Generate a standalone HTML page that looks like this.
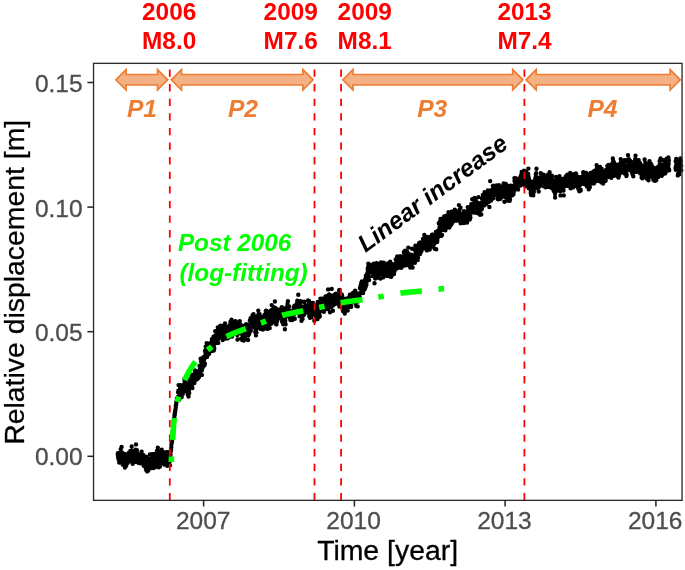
<!DOCTYPE html>
<html><head><meta charset="utf-8"><title>Relative displacement</title>
<style>
html,body{margin:0;padding:0;background:#fff;}
svg{display:block;}
text{font-family:"Liberation Sans",Arial,sans-serif;}
.ax{font-size:24.5px;fill:#4d4d4d;stroke:#4d4d4d;stroke-width:0.3px;}
.ttl{font-size:28.4px;fill:#000;stroke:#000;stroke-width:0.3px;}
.red{font-size:24.4px;font-weight:bold;fill:#ff0000;}
.per{font-size:24.6px;font-weight:bold;font-style:italic;fill:#ed7d31;text-anchor:middle;}
.grn{font-size:24.3px;font-weight:bold;font-style:italic;fill:#00ff00;}
.lin{font-size:24.4px;font-weight:bold;font-style:italic;fill:#000;}
</style></head>
<body>
<svg width="685" height="570" viewBox="0 0 685 570">
<rect width="685" height="570" fill="#fff"/>
<!-- data points -->
<path d="M117.8 454.4h0M117.9 453.1h0M118.1 457.4h0M118.2 456.1h0M118.4 458.6h0M118.5 453.9h0M118.7 455.1h0M118.8 459.9h0M119.0 454.0h0M119.1 455.3h0M119.2 462.6h0M119.4 456.2h0M119.5 456.8h0M119.7 453.2h0M119.8 452.8h0M120.0 458.9h0M120.1 456.6h0M120.3 453.7h0M120.4 452.7h0M120.5 455.0h0M120.7 449.3h0M120.8 458.8h0M121.0 456.5h0M121.1 459.2h0M121.3 455.9h0M121.4 455.5h0M121.6 446.9h0M121.7 459.7h0M121.8 460.4h0M122.0 454.2h0M122.1 452.8h0M122.3 454.1h0M122.4 455.8h0M122.6 456.0h0M122.7 464.6h0M122.9 457.3h0M123.0 455.5h0M123.1 461.5h0M123.3 459.3h0M123.4 463.1h0M123.6 460.7h0M123.7 460.1h0M123.9 456.0h0M124.0 458.8h0M124.2 461.1h0M124.3 453.9h0M124.4 458.3h0M124.6 458.9h0M124.7 459.7h0M124.9 467.5h0M125.0 458.8h0M125.2 455.9h0M125.3 460.0h0M125.5 457.4h0M125.6 457.7h0M125.7 457.3h0M125.9 457.1h0M126.0 458.7h0M126.2 465.7h0M126.3 454.4h0M126.5 459.3h0M126.6 456.5h0M126.8 456.0h0M126.9 456.4h0M127.0 454.6h0M127.2 456.2h0M127.3 462.4h0M127.5 463.0h0M127.6 459.0h0M127.8 456.3h0M127.9 459.4h0M128.1 455.2h0M128.2 456.5h0M128.4 460.8h0M128.5 459.0h0M128.6 457.1h0M128.8 457.8h0M128.9 455.1h0M129.1 452.4h0M129.2 457.7h0M129.4 457.2h0M129.5 452.2h0M129.7 457.2h0M129.8 459.0h0M129.9 456.8h0M130.1 454.5h0M130.2 459.0h0M130.4 451.0h0M130.5 461.4h0M130.7 457.6h0M130.8 452.5h0M131.0 453.2h0M131.1 452.7h0M131.2 456.5h0M131.4 457.5h0M131.5 457.1h0M131.7 446.5h0M131.8 458.4h0M132.0 450.9h0M132.1 450.9h0M132.3 453.2h0M132.4 453.8h0M132.5 459.7h0M132.7 463.7h0M132.8 452.8h0M133.0 455.4h0M133.1 457.5h0M133.3 458.5h0M133.4 452.6h0M133.6 453.2h0M133.7 456.4h0M133.8 461.9h0M134.0 451.5h0M134.1 457.6h0M134.3 459.8h0M134.4 455.8h0M134.6 461.5h0M134.7 452.8h0M134.9 457.1h0M135.0 455.0h0M135.1 456.8h0M135.3 452.0h0M135.4 453.7h0M135.6 449.7h0M135.7 450.2h0M135.9 456.9h0M136.0 444.4h0M136.2 457.8h0M136.3 454.2h0M136.4 460.9h0M136.6 453.3h0M136.7 462.0h0M136.9 454.8h0M137.0 450.2h0M137.2 459.6h0M137.3 460.8h0M137.5 460.2h0M137.6 456.1h0M137.7 454.2h0M137.9 457.6h0M138.0 458.8h0M138.2 460.5h0M138.3 457.4h0M138.5 454.9h0M138.6 456.0h0M138.8 454.4h0M138.9 463.1h0M139.0 456.4h0M139.2 458.6h0M139.3 460.8h0M139.5 459.9h0M139.6 457.3h0M139.8 459.4h0M139.9 459.4h0M140.1 460.3h0M140.2 463.2h0M140.3 457.0h0M140.5 462.7h0M140.6 461.7h0M140.8 460.4h0M140.9 460.1h0M141.1 460.4h0M141.2 463.1h0M141.4 453.1h0M141.5 456.6h0M141.6 451.8h0M141.8 456.5h0M141.9 456.8h0M142.1 455.8h0M142.2 461.2h0M142.4 456.1h0M142.5 460.1h0M142.7 456.8h0M142.8 458.0h0M142.9 460.8h0M143.1 455.0h0M143.2 462.8h0M143.4 462.6h0M143.5 461.8h0M143.7 465.7h0M143.8 456.5h0M144.0 458.5h0M144.1 460.3h0M144.2 458.8h0M144.4 461.8h0M144.5 456.1h0M144.7 463.3h0M144.8 466.4h0M145.0 460.9h0M145.1 461.0h0M145.3 457.9h0M145.4 463.1h0M145.5 462.8h0M145.7 460.8h0M145.8 465.8h0M146.0 469.5h0M146.1 467.7h0M146.3 470.2h0M146.4 463.8h0M146.6 467.0h0M146.7 456.9h0M146.8 460.4h0M147.0 462.7h0M147.1 462.8h0M147.3 471.4h0M147.4 470.4h0M147.6 463.6h0M147.7 459.5h0M147.9 467.3h0M148.0 461.8h0M148.2 470.4h0M148.3 464.9h0M148.4 460.9h0M148.6 460.6h0M148.7 462.6h0M148.9 467.6h0M149.0 464.9h0M149.2 465.3h0M149.3 459.0h0M149.5 459.4h0M149.6 466.0h0M149.7 460.6h0M149.9 454.4h0M150.0 465.4h0M150.2 462.4h0M150.3 468.2h0M150.5 461.4h0M150.6 461.1h0M150.8 462.4h0M150.9 462.8h0M151.0 462.4h0M151.2 461.2h0M151.3 462.2h0M151.5 461.1h0M151.6 465.4h0M151.8 454.3h0M151.9 461.9h0M152.1 458.7h0M152.2 463.3h0M152.3 456.6h0M152.5 456.9h0M152.6 464.8h0M152.8 459.6h0M152.9 464.2h0M153.1 460.4h0M153.2 468.1h0M153.4 459.5h0M153.5 456.7h0M153.6 464.9h0M153.8 458.0h0M153.9 453.9h0M154.1 460.0h0M154.2 462.1h0M154.4 457.6h0M154.5 461.9h0M154.7 457.9h0M154.8 467.4h0M154.9 462.9h0M155.1 464.4h0M155.2 458.0h0M155.4 460.0h0M155.5 462.7h0M155.7 464.8h0M155.8 457.5h0M156.0 457.4h0M156.1 461.0h0M156.2 455.6h0M156.4 456.9h0M156.5 454.0h0M156.7 458.1h0M156.8 458.0h0M157.0 450.8h0M157.1 462.9h0M157.3 460.9h0M157.4 455.6h0M157.5 458.1h0M157.7 463.4h0M157.8 447.6h0M158.0 463.5h0M158.1 456.4h0M158.3 457.9h0M158.4 454.6h0M158.6 458.2h0M158.7 463.5h0M158.8 467.3h0M159.0 466.3h0M159.1 460.2h0M159.3 461.1h0M159.4 459.4h0M159.6 462.5h0M159.7 451.4h0M159.9 466.6h0M160.0 457.2h0M160.1 462.5h0M160.3 459.5h0M160.4 461.0h0M160.6 461.0h0M160.7 452.9h0M160.9 456.3h0M161.0 453.0h0M161.2 459.6h0M161.3 453.4h0M161.4 453.8h0M161.6 452.0h0M161.7 449.6h0M161.9 458.7h0M162.0 459.4h0M162.2 452.7h0M162.3 460.0h0M162.5 455.1h0M162.6 456.1h0M162.7 463.3h0M162.9 456.9h0M163.0 457.9h0M163.2 457.9h0M163.3 463.2h0M163.5 452.3h0M163.6 455.9h0M163.8 455.5h0M163.9 459.4h0M164.0 459.6h0M164.2 461.1h0M164.3 464.5h0M164.5 462.2h0M164.6 458.2h0M164.8 459.3h0M164.9 461.3h0M165.1 458.7h0M165.2 459.4h0M165.3 463.6h0M165.5 457.9h0M165.6 459.7h0M165.8 453.2h0M165.9 462.0h0M166.1 452.3h0M166.2 454.3h0M166.4 458.9h0M166.5 455.6h0M166.6 461.0h0M166.8 465.0h0M166.9 461.6h0M167.1 457.6h0M167.2 465.8h0M167.4 456.3h0M167.5 455.7h0M167.7 452.1h0M167.8 461.9h0M167.9 462.1h0M168.1 464.2h0M168.2 453.3h0M168.4 459.4h0M168.5 456.4h0M168.7 460.5h0M168.8 459.9h0M169.0 457.5h0M169.1 461.2h0M169.3 461.5h0M169.4 457.4h0M169.5 460.6h0M169.7 456.3h0M169.8 457.7h0M170.0 465.3h0M170.1 460.8h0M170.3 459.0h0M170.4 455.2h0M170.6 454.6h0M170.7 451.4h0M170.8 450.5h0M171.0 450.7h0M171.1 449.3h0M171.3 447.2h0M171.4 444.4h0M171.6 443.2h0M171.7 443.0h0M171.9 441.3h0M172.0 441.6h0M172.1 439.5h0M172.3 436.2h0M172.4 435.6h0M172.6 433.4h0M172.7 432.0h0M172.9 430.2h0M173.0 430.4h0M173.2 427.2h0M173.3 428.1h0M173.4 426.4h0M173.6 425.4h0M173.7 421.6h0M173.9 421.5h0M174.0 419.5h0M174.2 419.0h0M174.3 417.3h0M174.5 415.5h0M174.6 413.6h0M174.7 415.1h0M174.9 413.9h0M175.0 411.5h0M175.2 411.6h0M175.3 410.2h0M175.5 409.5h0M175.6 409.1h0M175.8 406.9h0M175.9 405.8h0M176.0 404.8h0M176.2 404.2h0M176.3 402.5h0M176.5 401.1h0M176.6 401.7h0M176.8 400.9h0M176.9 398.5h0M177.1 399.8h0M177.2 400.0h0M177.3 398.6h0M177.5 398.8h0M177.6 398.0h0M177.8 397.0h0M177.9 398.7h0M178.1 392.2h0M178.2 397.1h0M178.4 390.6h0M178.5 391.8h0M178.6 385.1h0M178.8 396.8h0M178.9 399.8h0M179.1 392.7h0M179.2 395.4h0M179.4 399.0h0M179.5 393.1h0M179.7 391.5h0M179.8 389.5h0M179.9 390.3h0M180.1 390.6h0M180.2 392.5h0M180.4 387.5h0M180.5 386.0h0M180.7 385.2h0M180.8 392.9h0M181.0 388.8h0M181.1 386.0h0M181.2 389.7h0M181.4 390.6h0M181.5 390.6h0M181.7 397.1h0M181.8 392.5h0M182.0 393.5h0M182.1 386.3h0M182.3 388.1h0M182.4 388.0h0M182.5 385.8h0M182.7 393.9h0M182.8 385.8h0M183.0 389.1h0M183.1 391.5h0M183.3 388.3h0M183.4 391.9h0M183.6 387.0h0M183.7 386.9h0M183.8 386.8h0M184.0 385.6h0M184.1 384.5h0M184.3 384.3h0M184.4 379.0h0M184.6 381.1h0M184.7 386.5h0M184.9 388.9h0M185.0 381.2h0M185.1 382.2h0M185.3 380.8h0M185.4 380.0h0M185.6 386.4h0M185.7 385.4h0M185.9 383.4h0M186.0 386.1h0M186.2 384.4h0M186.3 389.6h0M186.4 385.1h0M186.6 390.2h0M186.7 387.8h0M186.9 391.2h0M187.0 390.1h0M187.2 389.6h0M187.3 390.1h0M187.5 388.7h0M187.6 388.8h0M187.7 394.3h0M187.9 386.4h0M188.0 388.8h0M188.2 384.6h0M188.3 391.8h0M188.5 396.5h0M188.6 391.8h0M188.8 390.7h0M188.9 390.4h0M189.1 386.0h0M189.2 393.0h0M189.3 380.0h0M189.5 387.1h0M189.6 382.5h0M189.8 386.2h0M189.9 383.7h0M190.1 381.6h0M190.2 379.5h0M190.4 384.2h0M190.5 386.7h0M190.6 385.1h0M190.8 386.3h0M190.9 380.8h0M191.1 378.0h0M191.2 377.9h0M191.4 382.1h0M191.5 379.7h0M191.7 380.2h0M191.8 375.3h0M191.9 374.9h0M192.1 383.0h0M192.2 384.8h0M192.4 388.0h0M192.5 378.0h0M192.7 376.3h0M192.8 377.8h0M193.0 376.3h0M193.1 375.0h0M193.2 378.7h0M193.4 376.3h0M193.5 380.6h0M193.7 382.9h0M193.8 381.3h0M194.0 381.7h0M194.1 374.2h0M194.3 374.5h0M194.4 382.9h0M194.5 374.8h0M194.7 376.5h0M194.8 378.4h0M195.0 370.5h0M195.1 374.7h0M195.3 372.7h0M195.4 374.4h0M195.6 373.5h0M195.7 370.9h0M195.8 376.8h0M196.0 379.8h0M196.1 373.4h0M196.3 373.9h0M196.4 376.1h0M196.6 371.4h0M196.7 379.3h0M196.9 378.0h0M197.0 374.2h0M197.1 374.4h0M197.3 373.1h0M197.4 378.8h0M197.6 372.7h0M197.7 371.8h0M197.9 374.1h0M198.0 371.2h0M198.2 372.0h0M198.3 378.1h0M198.4 375.3h0M198.6 375.2h0M198.7 372.5h0M198.9 371.5h0M199.0 376.9h0M199.2 374.3h0M199.3 371.6h0M199.5 365.9h0M199.6 370.8h0M199.7 374.5h0M199.9 375.0h0M200.0 368.7h0M200.2 369.6h0M200.3 367.6h0M200.5 368.7h0M200.6 358.8h0M200.8 370.9h0M200.9 365.7h0M201.0 361.3h0M201.2 370.8h0M201.3 368.7h0M201.5 364.0h0M201.6 369.7h0M201.8 370.5h0M201.9 374.9h0M202.1 364.7h0M202.2 364.8h0M202.3 363.7h0M202.5 365.1h0M202.6 367.7h0M202.8 359.9h0M202.9 360.9h0M203.1 362.8h0M203.2 359.6h0M203.4 357.3h0M203.5 364.8h0M203.6 362.8h0M203.8 360.3h0M203.9 360.8h0M204.1 359.0h0M204.2 365.6h0M204.4 357.7h0M204.5 356.6h0M204.7 364.8h0M204.8 358.1h0M204.9 363.6h0M205.1 350.6h0M205.2 351.2h0M205.4 351.2h0M205.5 353.7h0M205.7 346.7h0M205.8 354.4h0M206.0 355.3h0M206.1 355.3h0M206.2 350.6h0M206.4 353.8h0M206.5 355.6h0M206.7 343.1h0M206.8 351.4h0M207.0 356.9h0M207.1 355.5h0M207.3 353.8h0M207.4 348.0h0M207.5 352.2h0M207.7 349.2h0M207.8 354.8h0M208.0 349.9h0M208.1 348.1h0M208.3 353.6h0M208.4 354.1h0M208.6 350.3h0M208.7 351.4h0M208.9 349.3h0M209.0 353.9h0M209.1 346.5h0M209.3 349.7h0M209.4 344.0h0M209.6 343.7h0M209.7 345.0h0M209.9 346.0h0M210.0 349.3h0M210.2 343.3h0M210.3 343.9h0M210.4 351.0h0M210.6 345.9h0M210.7 344.2h0M210.9 345.8h0M211.0 345.9h0M211.2 349.1h0M211.3 342.4h0M211.5 351.0h0M211.6 343.1h0M211.7 348.5h0M211.9 339.2h0M212.0 341.5h0M212.2 344.4h0M212.3 341.6h0M212.5 341.6h0M212.6 342.0h0M212.8 339.9h0M212.9 341.2h0M213.0 340.8h0M213.2 347.4h0M213.3 340.9h0M213.5 336.7h0M213.6 345.1h0M213.8 350.6h0M213.9 347.1h0M214.1 345.2h0M214.2 343.5h0M214.3 348.5h0M214.5 338.4h0M214.6 341.5h0M214.8 343.4h0M214.9 338.7h0M215.1 338.8h0M215.2 331.2h0M215.4 335.6h0M215.5 341.6h0M215.6 337.0h0M215.8 338.5h0M215.9 335.4h0M216.1 335.0h0M216.2 337.4h0M216.4 331.4h0M216.5 330.9h0M216.7 331.7h0M216.8 334.1h0M216.9 336.7h0M217.1 337.1h0M217.2 332.6h0M217.4 335.3h0M217.5 335.2h0M217.7 339.5h0M217.8 327.5h0M218.0 329.2h0M218.1 333.2h0M218.2 342.9h0M218.4 338.7h0M218.5 336.3h0M218.7 334.1h0M218.8 336.8h0M219.0 335.9h0M219.1 335.2h0M219.3 336.5h0M219.4 333.0h0M219.5 332.6h0M219.7 330.8h0M219.8 336.3h0M220.0 334.9h0M220.1 329.8h0M220.3 331.0h0M220.4 325.6h0M220.6 331.3h0M220.7 330.3h0M220.8 334.8h0M221.0 336.4h0M221.1 334.2h0M221.3 326.7h0M221.4 330.1h0M221.6 326.9h0M221.7 331.8h0M221.9 329.9h0M222.0 332.7h0M222.1 328.4h0M222.3 338.0h0M222.4 337.6h0M222.6 335.3h0M222.7 340.1h0M222.9 332.3h0M223.0 330.8h0M223.2 333.9h0M223.3 330.0h0M223.4 329.6h0M223.6 334.8h0M223.7 325.8h0M223.9 331.5h0M224.0 327.9h0M224.2 336.7h0M224.3 329.9h0M224.5 330.7h0M224.6 329.4h0M224.7 328.3h0M224.9 325.8h0M225.0 323.4h0M225.2 332.7h0M225.3 334.5h0M225.5 335.4h0M225.6 338.5h0M225.8 336.6h0M225.9 329.3h0M226.0 335.7h0M226.2 332.3h0M226.3 328.1h0M226.5 330.3h0M226.6 329.7h0M226.8 331.1h0M226.9 327.5h0M227.1 332.3h0M227.2 327.3h0M227.3 336.2h0M227.5 327.5h0M227.6 335.8h0M227.8 338.3h0M227.9 331.8h0M228.1 329.6h0M228.2 329.9h0M228.4 334.5h0M228.5 330.2h0M228.7 335.0h0M228.8 332.9h0M228.9 330.0h0M229.1 326.9h0M229.2 329.5h0M229.4 334.2h0M229.5 325.1h0M229.7 328.4h0M229.8 329.3h0M230.0 328.2h0M230.1 326.4h0M230.2 336.6h0M230.4 322.0h0M230.5 329.4h0M230.7 323.4h0M230.8 325.9h0M231.0 333.3h0M231.1 322.7h0M231.3 320.4h0M231.4 325.8h0M231.5 319.6h0M231.7 321.1h0M231.8 324.8h0M232.0 327.2h0M232.1 336.5h0M232.3 324.7h0M232.4 323.6h0M232.6 323.9h0M232.7 321.4h0M232.8 327.7h0M233.0 325.3h0M233.1 321.7h0M233.3 322.3h0M233.4 326.7h0M233.6 322.7h0M233.7 329.1h0M233.9 323.4h0M234.0 330.4h0M234.1 326.8h0M234.3 333.9h0M234.4 330.1h0M234.6 330.8h0M234.7 333.8h0M234.9 327.7h0M235.0 325.3h0M235.2 329.3h0M235.3 324.9h0M235.4 321.2h0M235.6 327.2h0M235.7 328.7h0M235.9 326.2h0M236.0 324.8h0M236.2 329.0h0M236.3 326.9h0M236.5 323.0h0M236.6 323.8h0M236.7 323.9h0M236.9 332.0h0M237.0 325.7h0M237.2 329.4h0M237.3 335.1h0M237.5 339.5h0M237.6 330.5h0M237.8 330.9h0M237.9 325.8h0M238.0 333.5h0M238.2 326.2h0M238.3 331.3h0M238.5 329.4h0M238.6 333.1h0M238.8 327.1h0M238.9 332.0h0M239.1 327.6h0M239.2 322.0h0M239.3 330.3h0M239.5 329.1h0M239.6 328.2h0M239.8 321.1h0M239.9 323.8h0M240.1 327.5h0M240.2 329.4h0M240.4 328.3h0M240.5 327.0h0M240.6 332.0h0M240.8 325.7h0M240.9 324.9h0M241.1 329.6h0M241.2 338.6h0M241.4 329.4h0M241.5 333.5h0M241.7 328.3h0M241.8 338.5h0M241.9 326.8h0M242.1 334.5h0M242.2 340.1h0M242.4 331.6h0M242.5 330.4h0M242.7 329.4h0M242.8 332.9h0M243.0 333.6h0M243.1 332.8h0M243.2 326.0h0M243.4 334.3h0M243.5 334.2h0M243.7 332.3h0M243.8 340.6h0M244.0 331.4h0M244.1 338.2h0M244.3 333.2h0M244.4 337.1h0M244.5 337.4h0M244.7 331.8h0M244.8 333.2h0M245.0 330.2h0M245.1 337.2h0M245.3 329.9h0M245.4 332.6h0M245.6 331.3h0M245.7 333.2h0M245.8 325.5h0M246.0 327.5h0M246.1 324.2h0M246.3 330.8h0M246.4 327.2h0M246.6 326.9h0M246.7 324.4h0M246.9 328.0h0M247.0 328.6h0M247.1 327.7h0M247.3 328.3h0M247.4 326.9h0M247.6 325.8h0M247.7 327.9h0M247.9 330.5h0M248.0 340.0h0M248.2 335.6h0M248.3 332.4h0M248.4 330.2h0M248.6 333.8h0M248.7 328.0h0M248.9 332.1h0M249.0 327.2h0M249.2 333.9h0M249.3 330.1h0M249.5 332.6h0M249.6 325.0h0M249.8 320.7h0M249.9 329.4h0M250.0 329.3h0M250.2 325.6h0M250.3 326.5h0M250.5 327.6h0M250.6 318.1h0M250.8 330.8h0M250.9 324.9h0M251.1 327.3h0M251.2 327.9h0M251.3 324.5h0M251.5 323.9h0M251.6 320.2h0M251.8 320.3h0M251.9 326.1h0M252.1 321.2h0M252.2 326.1h0M252.4 324.2h0M252.5 315.3h0M252.6 325.4h0M252.8 320.7h0M252.9 317.3h0M253.1 318.1h0M253.2 319.4h0M253.4 319.5h0M253.5 314.1h0M253.7 319.4h0M253.8 318.3h0M253.9 317.8h0M254.1 319.0h0M254.2 318.4h0M254.4 316.4h0M254.5 317.9h0M254.7 323.9h0M254.8 320.3h0M255.0 320.5h0M255.1 322.1h0M255.2 332.1h0M255.4 328.7h0M255.5 331.1h0M255.7 332.1h0M255.8 327.5h0M256.0 335.3h0M256.1 321.1h0M256.3 331.9h0M256.4 323.8h0M256.5 332.6h0M256.7 326.9h0M256.8 317.0h0M257.0 322.1h0M257.1 328.4h0M257.3 324.1h0M257.4 321.8h0M257.6 319.1h0M257.7 323.8h0M257.8 325.9h0M258.0 315.8h0M258.1 322.2h0M258.3 310.6h0M258.4 325.7h0M258.6 314.3h0M258.7 319.2h0M258.9 322.7h0M259.0 322.8h0M259.1 322.9h0M259.3 314.7h0M259.4 314.5h0M259.6 314.2h0M259.7 321.3h0M259.9 320.6h0M260.0 317.1h0M260.2 316.9h0M260.3 325.0h0M260.4 320.0h0M260.6 322.6h0M260.7 328.1h0M260.9 329.0h0M261.0 323.2h0M261.2 322.6h0M261.3 320.6h0M261.5 320.2h0M261.6 317.3h0M261.7 325.2h0M261.9 322.0h0M262.0 324.3h0M262.2 319.9h0M262.3 318.2h0M262.5 320.5h0M262.6 318.7h0M262.8 328.2h0M262.9 326.8h0M263.0 329.6h0M263.2 326.0h0M263.3 319.4h0M263.5 324.9h0M263.6 327.1h0M263.8 326.0h0M263.9 324.4h0M264.1 323.3h0M264.2 318.4h0M264.3 326.0h0M264.5 314.9h0M264.6 323.5h0M264.8 318.5h0M264.9 317.9h0M265.1 319.7h0M265.2 323.6h0M265.4 317.8h0M265.5 314.3h0M265.6 316.0h0M265.8 311.0h0M265.9 317.7h0M266.1 321.4h0M266.2 310.6h0M266.4 319.5h0M266.5 317.6h0M266.7 316.4h0M266.8 321.8h0M266.9 314.7h0M267.1 320.0h0M267.2 328.9h0M267.4 325.0h0M267.5 319.1h0M267.7 321.5h0M267.8 325.7h0M268.0 322.0h0M268.1 328.5h0M268.2 323.7h0M268.4 324.7h0M268.5 316.1h0M268.7 322.4h0M268.8 324.8h0M269.0 320.9h0M269.1 321.0h0M269.3 317.2h0M269.4 311.7h0M269.6 316.5h0M269.7 328.1h0M269.8 322.1h0M270.0 319.4h0M270.1 321.4h0M270.3 315.8h0M270.4 320.0h0M270.6 314.2h0M270.7 315.1h0M270.9 323.9h0M271.0 320.6h0M271.1 314.6h0M271.3 314.4h0M271.4 310.2h0M271.6 314.8h0M271.7 305.1h0M271.9 314.6h0M272.0 311.1h0M272.2 315.8h0M272.3 318.7h0M272.4 318.0h0M272.6 313.9h0M272.7 312.9h0M272.9 318.6h0M273.0 313.5h0M273.2 313.0h0M273.3 312.9h0M273.5 307.3h0M273.6 322.2h0M273.7 309.7h0M273.9 314.0h0M274.0 311.2h0M274.2 315.4h0M274.3 314.9h0M274.5 313.9h0M274.6 314.0h0M274.8 317.3h0M274.9 301.5h0M275.0 307.7h0M275.2 309.1h0M275.3 313.7h0M275.5 316.2h0M275.6 312.3h0M275.8 315.6h0M275.9 319.2h0M276.1 313.0h0M276.2 311.6h0M276.3 324.4h0M276.5 324.3h0M276.6 308.9h0M276.8 318.9h0M276.9 321.4h0M277.1 318.7h0M277.2 320.4h0M277.4 310.6h0M277.5 315.2h0M277.6 313.2h0M277.8 316.9h0M277.9 318.2h0M278.1 311.8h0M278.2 315.8h0M278.4 316.4h0M278.5 315.6h0M278.7 314.0h0M278.8 312.0h0M278.9 316.2h0M279.1 312.9h0M279.2 313.6h0M279.4 317.5h0M279.5 310.4h0M279.7 311.5h0M279.8 309.7h0M280.0 314.6h0M280.1 311.1h0M280.2 314.4h0M280.4 313.6h0M280.5 309.1h0M280.7 314.3h0M280.8 310.4h0M281.0 318.2h0M281.1 312.8h0M281.3 314.7h0M281.4 316.3h0M281.5 309.7h0M281.7 314.4h0M281.8 307.3h0M282.0 321.5h0M282.1 319.7h0M282.3 321.8h0M282.4 310.4h0M282.6 316.8h0M282.7 320.3h0M282.8 316.4h0M283.0 316.0h0M283.1 320.6h0M283.3 324.2h0M283.4 314.1h0M283.6 317.0h0M283.7 312.9h0M283.9 312.3h0M284.0 310.6h0M284.1 308.7h0M284.3 318.1h0M284.4 314.2h0M284.6 315.2h0M284.7 319.7h0M284.9 329.2h0M285.0 318.9h0M285.2 319.4h0M285.3 320.7h0M285.4 317.4h0M285.6 324.3h0M285.7 312.4h0M285.9 310.1h0M286.0 313.0h0M286.2 310.3h0M286.3 315.8h0M286.5 314.7h0M286.6 307.2h0M286.7 311.3h0M286.9 312.8h0M287.0 312.7h0M287.2 313.9h0M287.3 310.8h0M287.5 304.1h0M287.6 310.6h0M287.8 315.5h0M287.9 301.2h0M288.0 313.1h0M288.2 310.6h0M288.3 309.3h0M288.5 310.4h0M288.6 312.0h0M288.8 310.5h0M288.9 312.5h0M289.1 306.4h0M289.2 311.2h0M289.4 312.9h0M289.5 310.6h0M289.6 312.4h0M289.8 314.9h0M289.9 317.7h0M290.1 312.7h0M290.2 319.0h0M290.4 320.1h0M290.5 318.9h0M290.7 316.7h0M290.8 315.3h0M290.9 316.2h0M291.1 317.1h0M291.2 311.5h0M291.4 313.2h0M291.5 315.0h0M291.7 313.1h0M291.8 311.2h0M292.0 314.7h0M292.1 311.8h0M292.2 320.1h0M292.4 311.9h0M292.5 313.2h0M292.7 314.5h0M292.8 314.5h0M293.0 311.2h0M293.1 312.9h0M293.3 312.5h0M293.4 313.1h0M293.5 311.4h0M293.7 308.4h0M293.8 307.0h0M294.0 311.3h0M294.1 306.6h0M294.3 313.9h0M294.4 311.8h0M294.6 305.7h0M294.7 318.4h0M294.8 318.8h0M295.0 313.3h0M295.1 307.2h0M295.3 311.7h0M295.4 308.1h0M295.6 309.0h0M295.7 312.7h0M295.9 308.7h0M296.0 306.9h0M296.1 313.0h0M296.3 306.0h0M296.4 304.9h0M296.6 305.2h0M296.7 303.9h0M296.9 305.3h0M297.0 305.7h0M297.2 302.6h0M297.3 300.7h0M297.4 310.7h0M297.6 305.8h0M297.7 303.7h0M297.9 308.3h0M298.0 307.9h0M298.2 305.1h0M298.3 294.8h0M298.5 305.5h0M298.6 305.7h0M298.7 302.8h0M298.9 304.5h0M299.0 308.6h0M299.2 304.9h0M299.3 302.7h0M299.5 316.2h0M299.6 305.7h0M299.8 306.1h0M299.9 311.2h0M300.0 308.7h0M300.2 302.7h0M300.3 308.2h0M300.5 309.2h0M300.6 301.1h0M300.8 306.1h0M300.9 310.6h0M301.1 309.4h0M301.2 312.2h0M301.3 311.7h0M301.5 320.7h0M301.6 308.9h0M301.8 311.8h0M301.9 312.3h0M302.1 306.9h0M302.2 317.5h0M302.4 312.3h0M302.5 312.7h0M302.6 318.8h0M302.8 308.0h0M302.9 310.5h0M303.1 308.7h0M303.2 315.1h0M303.4 308.6h0M303.5 310.7h0M303.7 315.0h0M303.8 312.6h0M303.9 306.5h0M304.1 302.1h0M304.2 301.6h0M304.4 307.0h0M304.5 314.1h0M304.7 309.2h0M304.8 313.1h0M305.0 310.9h0M305.1 310.5h0M305.2 307.9h0M305.4 310.3h0M305.5 309.1h0M305.7 306.5h0M305.8 310.1h0M306.0 308.0h0M306.1 305.8h0M306.3 309.5h0M306.4 306.7h0M306.5 312.1h0M306.7 310.2h0M306.8 308.7h0M307.0 308.3h0M307.1 307.3h0M307.3 307.5h0M307.4 307.2h0M307.6 308.1h0M307.7 307.8h0M307.8 305.1h0M308.0 310.6h0M308.1 300.4h0M308.3 305.2h0M308.4 305.0h0M308.6 310.7h0M308.7 302.3h0M308.9 302.8h0M309.0 301.0h0M309.2 313.9h0M309.3 316.2h0M309.4 311.5h0M309.6 310.0h0M309.7 302.5h0M309.9 314.9h0M310.0 317.8h0M310.2 310.9h0M310.3 315.6h0M310.5 311.0h0M310.6 310.2h0M310.7 315.8h0M310.9 309.1h0M311.0 306.7h0M311.2 313.2h0M311.3 317.3h0M311.5 314.6h0M311.6 308.3h0M311.8 312.3h0M311.9 303.9h0M312.0 308.1h0M312.2 312.2h0M312.3 308.1h0M312.5 304.9h0M312.6 309.6h0M312.8 304.7h0M312.9 302.9h0M313.1 304.5h0M313.2 313.9h0M313.3 314.0h0M313.5 314.2h0M313.6 307.4h0M313.8 312.5h0M313.9 313.9h0M314.1 308.8h0M314.2 310.9h0M314.4 320.8h0M314.5 312.9h0M314.6 305.8h0M314.8 310.2h0M314.9 312.8h0M315.1 310.0h0M315.2 305.2h0M315.4 305.3h0M315.5 311.2h0M315.7 310.8h0M315.8 308.4h0M315.9 316.5h0M316.1 314.8h0M316.2 305.9h0M316.4 314.3h0M316.5 313.8h0M316.7 313.1h0M316.8 307.5h0M317.0 311.3h0M317.1 315.0h0M317.2 318.2h0M317.4 305.9h0M317.5 319.1h0M317.7 302.0h0M317.8 308.9h0M318.0 309.8h0M318.1 315.7h0M318.3 313.2h0M318.4 306.9h0M318.5 311.3h0M318.7 305.2h0M318.8 305.2h0M319.0 316.9h0M319.1 312.8h0M319.3 314.1h0M319.4 307.1h0M319.6 314.9h0M319.7 316.6h0M319.8 316.2h0M320.0 307.0h0M320.1 303.3h0M320.3 308.9h0M320.4 298.6h0M320.6 302.1h0M320.7 304.9h0M320.9 304.3h0M321.0 300.5h0M321.1 300.7h0M321.3 306.2h0M321.4 308.1h0M321.6 302.3h0M321.7 310.7h0M321.9 305.9h0M322.0 299.7h0M322.2 307.3h0M322.3 299.5h0M322.4 304.3h0M322.6 298.6h0M322.7 306.6h0M322.9 304.8h0M323.0 301.8h0M323.2 304.3h0M323.3 300.9h0M323.5 299.6h0M323.6 300.4h0M323.7 308.9h0M323.9 311.8h0M324.0 308.3h0M324.2 305.4h0M324.3 310.2h0M324.5 304.1h0M324.6 302.6h0M324.8 304.8h0M324.9 303.0h0M325.0 302.5h0M325.2 298.6h0M325.3 298.5h0M325.5 296.5h0M325.6 299.2h0M325.8 299.1h0M325.9 300.7h0M326.1 296.1h0M326.2 302.2h0M326.3 306.6h0M326.5 298.5h0M326.6 296.9h0M326.8 299.4h0M326.9 305.7h0M327.1 303.3h0M327.2 302.1h0M327.4 296.9h0M327.5 304.2h0M327.6 296.9h0M327.8 303.0h0M327.9 295.9h0M328.1 289.4h0M328.2 309.2h0M328.4 301.9h0M328.5 299.6h0M328.7 304.9h0M328.8 303.8h0M328.9 304.0h0M329.1 294.5h0M329.2 299.9h0M329.4 301.5h0M329.5 304.5h0M329.7 303.6h0M329.8 299.8h0M330.0 312.2h0M330.1 303.6h0M330.3 300.5h0M330.4 301.0h0M330.5 295.5h0M330.7 305.1h0M330.8 303.7h0M331.0 307.1h0M331.1 301.9h0M331.3 299.2h0M331.4 299.0h0M331.6 302.4h0M331.7 288.9h0M331.8 299.7h0M332.0 300.5h0M332.1 300.6h0M332.3 299.7h0M332.4 305.6h0M332.6 297.8h0M332.7 305.4h0M332.9 310.8h0M333.0 305.5h0M333.1 298.9h0M333.3 298.2h0M333.4 296.7h0M333.6 298.2h0M333.7 300.5h0M333.9 297.6h0M334.0 299.0h0M334.2 297.5h0M334.3 300.5h0M334.4 294.7h0M334.6 297.9h0M334.7 303.0h0M334.9 296.6h0M335.0 304.0h0M335.2 298.1h0M335.3 299.5h0M335.5 295.0h0M335.6 295.6h0M335.7 301.6h0M335.9 293.7h0M336.0 302.1h0M336.2 302.8h0M336.3 297.4h0M336.5 299.8h0M336.6 295.9h0M336.8 297.8h0M336.9 295.7h0M337.0 299.5h0M337.2 299.4h0M337.3 297.5h0M337.5 300.8h0M337.6 303.6h0M337.8 297.5h0M337.9 295.1h0M338.1 300.5h0M338.2 303.3h0M338.3 300.6h0M338.5 298.8h0M338.6 294.9h0M338.8 299.3h0M338.9 302.5h0M339.1 290.5h0M339.2 303.8h0M339.4 306.5h0M339.5 290.0h0M339.6 303.1h0M339.8 294.7h0M339.9 298.5h0M340.1 305.7h0M340.2 298.4h0M340.4 300.0h0M340.5 301.3h0M340.7 299.3h0M340.8 298.0h0M340.9 300.2h0M341.1 299.6h0M341.2 303.4h0M341.4 295.4h0M341.5 306.0h0M341.7 294.5h0M341.8 304.6h0M342.0 300.4h0M342.1 295.5h0M342.2 303.5h0M342.4 299.4h0M342.5 302.6h0M342.7 307.6h0M342.8 303.7h0M343.0 301.4h0M343.1 311.2h0M343.3 306.7h0M343.4 309.3h0M343.5 303.9h0M343.7 302.3h0M343.8 301.4h0M344.0 309.8h0M344.1 306.8h0M344.3 305.7h0M344.4 300.5h0M344.6 301.3h0M344.7 305.7h0M344.8 313.6h0M345.0 303.5h0M345.1 298.6h0M345.3 303.7h0M345.4 307.7h0M345.6 306.1h0M345.7 304.5h0M345.9 303.8h0M346.0 305.2h0M346.1 300.3h0M346.3 300.5h0M346.4 309.8h0M346.6 307.9h0M346.7 308.2h0M346.9 310.3h0M347.0 307.4h0M347.2 303.6h0M347.3 308.8h0M347.4 304.7h0M347.6 307.8h0M347.7 310.5h0M347.9 307.0h0M348.0 303.2h0M348.2 305.6h0M348.3 306.0h0M348.5 297.7h0M348.6 305.6h0M348.7 304.5h0M348.9 301.6h0M349.0 297.3h0M349.2 299.4h0M349.3 302.0h0M349.5 304.8h0M349.6 299.8h0M349.8 300.4h0M349.9 294.6h0M350.1 299.3h0M350.2 302.6h0M350.3 295.4h0M350.5 301.7h0M350.6 303.7h0M350.8 300.6h0M350.9 300.1h0M351.1 306.9h0M351.2 305.9h0M351.4 294.4h0M351.5 300.6h0M351.6 294.5h0M351.8 296.0h0M351.9 294.9h0M352.1 295.4h0M352.2 298.4h0M352.4 295.3h0M352.5 295.5h0M352.7 301.9h0M352.8 293.3h0M352.9 297.8h0M353.1 301.0h0M353.2 295.1h0M353.4 292.8h0M353.5 294.2h0M353.7 293.0h0M353.8 294.6h0M354.0 294.7h0M354.1 293.9h0M354.2 296.7h0M354.4 297.4h0M354.5 293.1h0M354.7 298.3h0M354.8 294.0h0M355.0 296.6h0M355.1 290.6h0M355.3 303.0h0M355.4 293.5h0M355.5 291.7h0M355.7 297.8h0M355.8 295.0h0M356.0 301.1h0M356.1 299.4h0M356.3 305.9h0M356.4 294.2h0M356.6 297.2h0M356.7 293.8h0M356.8 297.0h0M357.0 295.8h0M357.1 299.9h0M357.3 297.1h0M357.4 296.5h0M357.6 296.8h0M357.7 306.4h0M357.9 298.4h0M358.0 301.5h0M358.1 298.6h0M358.3 299.0h0M358.4 298.2h0M358.6 300.4h0M358.7 296.8h0M358.9 300.8h0M359.0 296.1h0M359.2 296.2h0M359.3 295.8h0M359.4 296.2h0M359.6 299.1h0M359.7 297.1h0M359.9 288.2h0M360.0 297.9h0M360.2 293.3h0M360.3 292.6h0M360.5 292.9h0M360.6 285.8h0M360.7 285.5h0M360.9 285.0h0M361.0 285.3h0M361.2 283.0h0M361.3 288.7h0M361.5 285.1h0M361.6 284.8h0M361.8 287.6h0M361.9 281.5h0M362.0 285.0h0M362.2 290.3h0M362.3 283.0h0M362.5 284.1h0M362.6 284.4h0M362.8 285.9h0M362.9 288.0h0M363.1 293.0h0M363.2 288.8h0M363.3 283.4h0M363.5 288.2h0M363.6 283.9h0M363.8 282.1h0M363.9 285.1h0M364.1 283.8h0M364.2 282.5h0M364.4 284.2h0M364.5 289.6h0M364.6 282.7h0M364.8 281.0h0M364.9 281.6h0M365.1 288.4h0M365.2 284.1h0M365.4 278.8h0M365.5 283.5h0M365.7 286.8h0M365.8 280.7h0M365.9 275.7h0M366.1 281.3h0M366.2 285.0h0M366.4 276.8h0M366.5 284.5h0M366.7 281.4h0M366.8 278.6h0M367.0 274.0h0M367.1 277.2h0M367.2 277.9h0M367.4 274.8h0M367.5 278.6h0M367.7 268.9h0M367.8 271.1h0M368.0 267.5h0M368.1 269.4h0M368.3 263.8h0M368.4 276.4h0M368.5 271.1h0M368.7 277.1h0M368.8 269.4h0M369.0 269.2h0M369.1 280.1h0M369.3 269.2h0M369.4 270.6h0M369.6 268.3h0M369.7 264.6h0M369.9 272.6h0M370.0 269.2h0M370.1 268.7h0M370.3 265.9h0M370.4 271.8h0M370.6 270.3h0M370.7 268.0h0M370.9 268.5h0M371.0 265.5h0M371.2 265.3h0M371.3 265.3h0M371.4 266.4h0M371.6 271.0h0M371.7 269.9h0M371.9 271.8h0M372.0 270.4h0M372.2 267.4h0M372.3 270.9h0M372.5 276.1h0M372.6 270.1h0M372.7 265.8h0M372.9 269.0h0M373.0 267.4h0M373.2 264.3h0M373.3 268.8h0M373.5 267.0h0M373.6 269.9h0M373.8 263.7h0M373.9 271.5h0M374.0 272.4h0M374.2 271.7h0M374.3 267.3h0M374.5 283.2h0M374.6 274.5h0M374.8 272.4h0M374.9 270.9h0M375.1 274.2h0M375.2 278.5h0M375.3 277.7h0M375.5 272.2h0M375.6 267.2h0M375.8 273.7h0M375.9 270.6h0M376.1 265.1h0M376.2 269.3h0M376.4 264.8h0M376.5 264.9h0M376.6 263.2h0M376.8 263.1h0M376.9 266.3h0M377.1 270.5h0M377.2 274.1h0M377.4 263.8h0M377.5 269.8h0M377.7 271.8h0M377.8 272.1h0M377.9 277.6h0M378.1 267.2h0M378.2 267.3h0M378.4 277.1h0M378.5 268.9h0M378.7 268.7h0M378.8 273.3h0M379.0 273.8h0M379.1 264.9h0M379.2 272.1h0M379.4 271.4h0M379.5 272.2h0M379.7 269.6h0M379.8 266.3h0M380.0 272.8h0M380.1 266.4h0M380.3 265.8h0M380.4 278.5h0M380.5 268.6h0M380.7 268.2h0M380.8 273.9h0M381.0 262.4h0M381.1 267.4h0M381.3 271.8h0M381.4 266.5h0M381.6 270.6h0M381.7 268.5h0M381.8 271.9h0M382.0 264.8h0M382.1 270.3h0M382.3 263.4h0M382.4 272.7h0M382.6 270.2h0M382.7 270.9h0M382.9 268.4h0M383.0 266.3h0M383.1 277.4h0M383.3 273.6h0M383.4 270.9h0M383.6 266.5h0M383.7 262.8h0M383.9 272.5h0M384.0 264.4h0M384.2 265.4h0M384.3 271.0h0M384.4 266.8h0M384.6 273.5h0M384.7 269.6h0M384.9 265.2h0M385.0 272.6h0M385.2 272.0h0M385.3 270.4h0M385.5 267.2h0M385.6 271.7h0M385.7 268.2h0M385.9 270.1h0M386.0 272.1h0M386.2 273.6h0M386.3 271.5h0M386.5 267.9h0M386.6 273.3h0M386.8 269.5h0M386.9 275.9h0M387.0 268.7h0M387.2 266.4h0M387.3 269.5h0M387.5 265.6h0M387.6 269.2h0M387.8 265.6h0M387.9 263.4h0M388.1 265.4h0M388.2 265.9h0M388.3 275.9h0M388.5 270.3h0M388.6 271.7h0M388.8 263.8h0M388.9 269.7h0M389.1 275.6h0M389.2 273.3h0M389.4 267.9h0M389.5 267.2h0M389.7 269.8h0M389.8 265.8h0M389.9 270.3h0M390.1 271.2h0M390.2 261.7h0M390.4 268.6h0M390.5 267.7h0M390.7 265.1h0M390.8 264.8h0M391.0 276.9h0M391.1 270.2h0M391.2 274.0h0M391.4 276.3h0M391.5 265.6h0M391.7 271.0h0M391.8 270.0h0M392.0 264.9h0M392.1 265.6h0M392.3 270.1h0M392.4 272.1h0M392.5 267.2h0M392.7 264.3h0M392.8 269.6h0M393.0 269.4h0M393.1 265.4h0M393.3 270.5h0M393.4 269.9h0M393.6 269.9h0M393.7 264.6h0M393.8 268.0h0M394.0 274.1h0M394.1 270.4h0M394.3 269.8h0M394.4 264.7h0M394.6 271.1h0M394.7 265.6h0M394.9 268.1h0M395.0 269.0h0M395.1 264.6h0M395.3 268.2h0M395.4 266.3h0M395.6 267.7h0M395.7 259.5h0M395.9 268.7h0M396.0 259.8h0M396.2 267.3h0M396.3 260.9h0M396.4 259.1h0M396.6 263.1h0M396.7 268.6h0M396.9 260.1h0M397.0 264.4h0M397.2 256.5h0M397.3 261.6h0M397.5 259.8h0M397.6 259.4h0M397.7 257.2h0M397.9 257.9h0M398.0 258.4h0M398.2 265.1h0M398.3 267.4h0M398.5 260.0h0M398.6 265.1h0M398.8 262.2h0M398.9 266.4h0M399.0 259.6h0M399.2 260.4h0M399.3 258.4h0M399.5 265.2h0M399.6 267.6h0M399.8 265.3h0M399.9 261.1h0M400.1 264.9h0M400.2 256.3h0M400.3 265.2h0M400.5 266.8h0M400.6 264.6h0M400.8 262.6h0M400.9 266.7h0M401.1 258.3h0M401.2 260.9h0M401.4 267.8h0M401.5 267.4h0M401.6 259.9h0M401.8 260.2h0M401.9 258.1h0M402.1 264.3h0M402.2 261.3h0M402.4 257.0h0M402.5 257.5h0M402.7 258.4h0M402.8 261.6h0M402.9 257.5h0M403.1 257.6h0M403.2 263.9h0M403.4 257.9h0M403.5 256.9h0M403.7 260.5h0M403.8 252.3h0M404.0 265.6h0M404.1 259.2h0M404.2 252.6h0M404.4 254.8h0M404.5 257.0h0M404.7 261.8h0M404.8 262.7h0M405.0 257.8h0M405.1 250.8h0M405.3 256.3h0M405.4 257.9h0M405.5 261.6h0M405.7 255.5h0M405.8 265.2h0M406.0 258.3h0M406.1 253.5h0M406.3 255.0h0M406.4 256.7h0M406.6 255.2h0M406.7 256.3h0M406.8 257.8h0M407.0 260.5h0M407.1 258.0h0M407.3 251.9h0M407.4 260.2h0M407.6 257.7h0M407.7 255.9h0M407.9 253.7h0M408.0 255.2h0M408.1 257.5h0M408.3 247.6h0M408.4 258.6h0M408.6 261.6h0M408.7 256.6h0M408.9 254.6h0M409.0 254.2h0M409.2 265.6h0M409.3 263.4h0M409.4 261.1h0M409.6 257.2h0M409.7 261.0h0M409.9 265.6h0M410.0 264.1h0M410.2 262.3h0M410.3 267.6h0M410.5 257.6h0M410.6 258.6h0M410.8 258.6h0M410.9 259.6h0M411.0 254.7h0M411.2 265.2h0M411.3 264.4h0M411.5 257.6h0M411.6 255.0h0M411.8 258.4h0M411.9 257.8h0M412.1 248.7h0M412.2 258.9h0M412.3 258.0h0M412.5 258.8h0M412.6 267.5h0M412.8 260.7h0M412.9 258.7h0M413.1 257.9h0M413.2 257.3h0M413.4 258.8h0M413.5 258.2h0M413.6 258.4h0M413.8 256.4h0M413.9 262.4h0M414.1 259.5h0M414.2 256.7h0M414.4 255.6h0M414.5 255.2h0M414.7 260.4h0M414.8 257.9h0M414.9 262.7h0M415.1 249.7h0M415.2 250.6h0M415.4 245.6h0M415.5 251.3h0M415.7 252.3h0M415.8 255.0h0M416.0 246.5h0M416.1 252.9h0M416.2 248.5h0M416.4 252.6h0M416.5 246.3h0M416.7 249.1h0M416.8 248.4h0M417.0 255.5h0M417.1 250.6h0M417.3 254.5h0M417.4 249.9h0M417.5 250.7h0M417.7 260.1h0M417.8 246.1h0M418.0 257.8h0M418.1 248.6h0M418.3 247.2h0M418.4 245.6h0M418.6 249.7h0M418.7 252.4h0M418.8 246.4h0M419.0 243.2h0M419.1 251.8h0M419.3 250.3h0M419.4 253.5h0M419.6 250.1h0M419.7 247.9h0M419.9 245.6h0M420.0 254.0h0M420.1 246.2h0M420.3 242.5h0M420.4 249.9h0M420.6 245.0h0M420.7 248.3h0M420.9 243.0h0M421.0 248.7h0M421.2 248.5h0M421.3 251.5h0M421.4 246.7h0M421.6 247.5h0M421.7 249.4h0M421.9 244.7h0M422.0 245.2h0M422.2 248.1h0M422.3 242.2h0M422.5 248.7h0M422.6 243.2h0M422.7 245.0h0M422.9 246.6h0M423.0 239.0h0M423.2 238.9h0M423.3 243.0h0M423.5 246.6h0M423.6 248.2h0M423.8 245.5h0M423.9 247.8h0M424.0 244.0h0M424.2 244.1h0M424.3 235.0h0M424.5 240.8h0M424.6 245.2h0M424.8 244.4h0M424.9 247.2h0M425.1 245.6h0M425.2 238.4h0M425.3 247.2h0M425.5 240.1h0M425.6 248.0h0M425.8 248.4h0M425.9 242.6h0M426.1 244.7h0M426.2 243.7h0M426.4 242.4h0M426.5 242.3h0M426.6 247.5h0M426.8 237.0h0M426.9 250.4h0M427.1 238.0h0M427.2 246.6h0M427.4 244.8h0M427.5 247.4h0M427.7 237.3h0M427.8 238.5h0M427.9 242.5h0M428.1 245.5h0M428.2 244.0h0M428.4 238.0h0M428.5 245.2h0M428.7 243.3h0M428.8 242.8h0M429.0 242.7h0M429.1 244.4h0M429.2 239.1h0M429.4 246.7h0M429.5 239.2h0M429.7 249.5h0M429.8 240.3h0M430.0 247.3h0M430.1 246.8h0M430.3 238.9h0M430.4 241.1h0M430.6 236.8h0M430.7 240.2h0M430.8 245.1h0M431.0 239.8h0M431.1 241.0h0M431.3 242.9h0M431.4 243.6h0M431.6 240.6h0M431.7 239.9h0M431.9 242.7h0M432.0 240.7h0M432.1 234.7h0M432.3 236.6h0M432.4 236.8h0M432.6 236.1h0M432.7 234.7h0M432.9 240.3h0M433.0 243.3h0M433.2 246.8h0M433.3 237.8h0M433.4 234.9h0M433.6 237.3h0M433.7 236.7h0M433.9 235.8h0M434.0 241.2h0M434.2 239.2h0M434.3 243.8h0M434.5 242.3h0M434.6 239.9h0M434.7 248.8h0M434.9 238.5h0M435.0 239.2h0M435.2 236.1h0M435.3 240.4h0M435.5 235.3h0M435.6 238.1h0M435.8 234.6h0M435.9 232.0h0M436.0 240.2h0M436.2 249.2h0M436.3 238.0h0M436.5 241.1h0M436.6 239.2h0M436.8 234.8h0M436.9 233.4h0M437.1 242.1h0M437.2 239.9h0M437.3 241.1h0M437.5 233.3h0M437.6 238.3h0M437.8 236.2h0M437.9 234.7h0M438.1 230.7h0M438.2 234.6h0M438.4 230.5h0M438.5 232.7h0M438.6 232.1h0M438.8 223.3h0M438.9 231.1h0M439.1 232.6h0M439.2 232.4h0M439.4 233.1h0M439.5 227.5h0M439.7 224.2h0M439.8 221.9h0M439.9 228.8h0M440.1 232.0h0M440.2 224.0h0M440.4 229.8h0M440.5 218.9h0M440.7 228.2h0M440.8 228.7h0M441.0 227.1h0M441.1 221.9h0M441.2 235.9h0M441.4 227.7h0M441.5 229.4h0M441.7 228.2h0M441.8 229.1h0M442.0 235.0h0M442.1 227.8h0M442.3 225.2h0M442.4 225.1h0M442.5 225.3h0M442.7 223.3h0M442.8 227.9h0M443.0 222.0h0M443.1 219.3h0M443.3 218.4h0M443.4 222.9h0M443.6 230.1h0M443.7 217.9h0M443.8 224.4h0M444.0 224.0h0M444.1 216.5h0M444.3 219.0h0M444.4 222.7h0M444.6 218.1h0M444.7 220.1h0M444.9 221.5h0M445.0 226.9h0M445.1 226.9h0M445.3 223.1h0M445.4 230.3h0M445.6 228.4h0M445.7 227.8h0M445.9 228.2h0M446.0 223.0h0M446.2 219.6h0M446.3 223.6h0M446.4 215.6h0M446.6 217.8h0M446.7 223.8h0M446.9 217.5h0M447.0 224.8h0M447.2 221.9h0M447.3 216.6h0M447.5 223.2h0M447.6 217.0h0M447.7 221.3h0M447.9 217.2h0M448.0 221.5h0M448.2 222.7h0M448.3 222.8h0M448.5 212.2h0M448.6 215.0h0M448.8 219.8h0M448.9 221.5h0M449.0 216.4h0M449.2 218.8h0M449.3 227.6h0M449.5 222.7h0M449.6 216.4h0M449.8 226.6h0M449.9 223.9h0M450.1 224.8h0M450.2 224.0h0M450.4 215.8h0M450.5 221.3h0M450.6 218.5h0M450.8 224.5h0M450.9 220.4h0M451.1 216.3h0M451.2 224.5h0M451.4 218.9h0M451.5 220.0h0M451.7 220.7h0M451.8 211.7h0M451.9 214.0h0M452.1 211.7h0M452.2 216.4h0M452.4 222.7h0M452.5 215.8h0M452.7 212.8h0M452.8 213.6h0M453.0 213.3h0M453.1 215.9h0M453.2 213.9h0M453.4 214.4h0M453.5 217.2h0M453.7 216.4h0M453.8 218.7h0M454.0 215.3h0M454.1 219.1h0M454.3 212.5h0M454.4 218.6h0M454.5 214.8h0M454.7 210.4h0M454.8 209.7h0M455.0 217.0h0M455.1 216.8h0M455.3 212.4h0M455.4 218.2h0M455.6 217.0h0M455.7 217.3h0M455.8 216.9h0M456.0 217.8h0M456.1 220.7h0M456.3 219.8h0M456.4 215.4h0M456.6 215.5h0M456.7 213.2h0M456.9 211.4h0M457.0 216.7h0M457.1 217.1h0M457.3 214.3h0M457.4 218.2h0M457.6 213.3h0M457.7 218.2h0M457.9 212.8h0M458.0 220.2h0M458.2 213.4h0M458.3 217.7h0M458.4 218.3h0M458.6 211.4h0M458.7 212.3h0M458.9 205.1h0M459.0 213.6h0M459.2 214.1h0M459.3 214.8h0M459.5 210.1h0M459.6 217.9h0M459.7 209.6h0M459.9 217.4h0M460.0 213.6h0M460.2 214.6h0M460.3 214.8h0M460.5 207.8h0M460.6 223.2h0M460.8 219.4h0M460.9 213.8h0M461.0 214.5h0M461.2 215.6h0M461.3 215.8h0M461.5 221.4h0M461.6 215.1h0M461.8 215.9h0M461.9 219.9h0M462.1 218.3h0M462.2 221.2h0M462.3 214.6h0M462.5 218.5h0M462.6 214.3h0M462.8 220.2h0M462.9 218.0h0M463.1 218.3h0M463.2 218.0h0M463.4 215.2h0M463.5 217.1h0M463.6 218.8h0M463.8 223.1h0M463.9 216.5h0M464.1 211.2h0M464.2 215.0h0M464.4 219.6h0M464.5 216.5h0M464.7 213.1h0M464.8 222.2h0M464.9 216.3h0M465.1 221.8h0M465.2 218.8h0M465.4 215.8h0M465.5 215.0h0M465.7 217.2h0M465.8 221.3h0M466.0 215.2h0M466.1 214.9h0M466.2 217.7h0M466.4 216.7h0M466.5 222.5h0M466.7 215.4h0M466.8 213.9h0M467.0 222.2h0M467.1 222.6h0M467.3 212.8h0M467.4 214.5h0M467.5 218.2h0M467.7 207.2h0M467.8 211.1h0M468.0 211.0h0M468.1 216.2h0M468.3 215.2h0M468.4 209.0h0M468.6 213.5h0M468.7 216.2h0M468.8 208.8h0M469.0 216.1h0M469.1 209.3h0M469.3 213.4h0M469.4 212.0h0M469.6 219.5h0M469.7 215.6h0M469.9 212.6h0M470.0 219.1h0M470.2 216.1h0M470.3 213.0h0M470.4 217.7h0M470.6 211.2h0M470.7 211.8h0M470.9 209.5h0M471.0 206.2h0M471.2 208.5h0M471.3 204.3h0M471.5 204.6h0M471.6 210.3h0M471.7 205.4h0M471.9 211.3h0M472.0 206.9h0M472.2 199.3h0M472.3 209.5h0M472.5 208.2h0M472.6 205.8h0M472.8 209.0h0M472.9 210.8h0M473.0 205.2h0M473.2 210.8h0M473.3 210.3h0M473.5 212.6h0M473.6 208.0h0M473.8 208.4h0M473.9 206.2h0M474.1 203.7h0M474.2 208.0h0M474.3 206.9h0M474.5 198.0h0M474.6 201.5h0M474.8 207.2h0M474.9 207.4h0M475.1 207.8h0M475.2 201.9h0M475.4 199.2h0M475.5 201.2h0M475.6 205.3h0M475.8 204.0h0M475.9 205.0h0M476.1 201.3h0M476.2 201.9h0M476.4 206.9h0M476.5 209.1h0M476.7 202.8h0M476.8 212.9h0M476.9 205.2h0M477.1 205.5h0M477.2 205.8h0M477.4 210.3h0M477.5 207.2h0M477.7 207.7h0M477.8 208.7h0M478.0 205.2h0M478.1 203.0h0M478.2 208.7h0M478.4 206.5h0M478.5 197.1h0M478.7 206.9h0M478.8 208.2h0M479.0 206.3h0M479.1 209.3h0M479.3 203.6h0M479.4 214.3h0M479.5 212.4h0M479.7 206.0h0M479.8 207.5h0M480.0 210.7h0M480.1 214.8h0M480.3 203.5h0M480.4 204.1h0M480.6 206.0h0M480.7 207.3h0M480.8 206.6h0M481.0 204.4h0M481.1 208.2h0M481.3 214.4h0M481.4 202.9h0M481.6 209.4h0M481.7 203.6h0M481.9 208.8h0M482.0 203.3h0M482.1 198.9h0M482.3 206.0h0M482.4 198.6h0M482.6 202.1h0M482.7 204.7h0M482.9 194.9h0M483.0 196.9h0M483.2 205.3h0M483.3 199.4h0M483.4 198.8h0M483.6 202.8h0M483.7 195.0h0M483.9 196.7h0M484.0 194.7h0M484.2 194.5h0M484.3 199.3h0M484.5 205.2h0M484.6 192.3h0M484.7 203.0h0M484.9 199.9h0M485.0 196.5h0M485.2 196.5h0M485.3 195.5h0M485.5 199.0h0M485.6 200.5h0M485.8 197.6h0M485.9 192.7h0M486.0 200.1h0M486.2 192.8h0M486.3 203.8h0M486.5 199.2h0M486.6 200.4h0M486.8 199.1h0M486.9 202.2h0M487.1 194.3h0M487.2 198.1h0M487.3 197.7h0M487.5 196.1h0M487.6 197.3h0M487.8 192.7h0M487.9 190.4h0M488.1 194.2h0M488.2 196.7h0M488.4 198.8h0M488.5 198.9h0M488.6 202.0h0M488.8 197.7h0M488.9 199.1h0M489.1 200.3h0M489.2 194.8h0M489.4 207.0h0M489.5 198.0h0M489.7 193.9h0M489.8 196.5h0M489.9 190.6h0M490.1 192.1h0M490.2 181.1h0M490.4 198.8h0M490.5 194.9h0M490.7 197.5h0M490.8 198.5h0M491.0 200.5h0M491.1 191.1h0M491.3 196.5h0M491.4 191.1h0M491.5 195.2h0M491.7 199.3h0M491.8 194.4h0M492.0 191.3h0M492.1 189.6h0M492.3 191.5h0M492.4 190.8h0M492.6 193.5h0M492.7 191.1h0M492.8 186.1h0M493.0 191.5h0M493.1 198.2h0M493.3 185.7h0M493.4 193.7h0M493.6 195.8h0M493.7 194.6h0M493.9 190.3h0M494.0 186.2h0M494.1 192.8h0M494.3 195.0h0M494.4 187.8h0M494.6 188.9h0M494.7 189.2h0M494.9 191.4h0M495.0 187.5h0M495.2 188.4h0M495.3 192.2h0M495.4 192.2h0M495.6 187.0h0M495.7 187.2h0M495.9 188.2h0M496.0 186.2h0M496.2 188.1h0M496.3 190.1h0M496.5 185.4h0M496.6 187.4h0M496.7 192.0h0M496.9 189.0h0M497.0 187.6h0M497.2 193.3h0M497.3 189.5h0M497.5 198.7h0M497.6 186.7h0M497.8 192.5h0M497.9 195.2h0M498.0 197.0h0M498.2 199.3h0M498.3 194.2h0M498.5 189.1h0M498.6 193.5h0M498.8 188.8h0M498.9 185.3h0M499.1 198.1h0M499.2 192.8h0M499.3 193.5h0M499.5 192.2h0M499.6 196.7h0M499.8 197.2h0M499.9 198.8h0M500.1 186.2h0M500.2 187.6h0M500.4 198.8h0M500.5 194.0h0M500.6 194.3h0M500.8 191.9h0M500.9 191.8h0M501.1 187.8h0M501.2 197.2h0M501.4 191.2h0M501.5 194.7h0M501.7 191.5h0M501.8 190.4h0M501.9 191.1h0M502.1 192.2h0M502.2 188.4h0M502.4 190.9h0M502.5 196.0h0M502.7 187.7h0M502.8 188.2h0M503.0 189.7h0M503.1 193.5h0M503.2 194.0h0M503.4 185.9h0M503.5 188.9h0M503.7 183.5h0M503.8 191.1h0M504.0 190.3h0M504.1 190.4h0M504.3 196.0h0M504.4 201.8h0M504.5 194.0h0M504.7 196.7h0M504.8 188.1h0M505.0 193.2h0M505.1 190.6h0M505.3 187.5h0M505.4 191.7h0M505.6 187.1h0M505.7 194.2h0M505.8 184.0h0M506.0 189.7h0M506.1 184.6h0M506.3 192.5h0M506.4 189.8h0M506.6 197.2h0M506.7 194.4h0M506.9 193.1h0M507.0 198.2h0M507.1 185.4h0M507.3 200.6h0M507.4 193.0h0M507.6 193.3h0M507.7 192.1h0M507.9 190.9h0M508.0 189.5h0M508.2 190.5h0M508.3 194.5h0M508.4 198.7h0M508.6 191.0h0M508.7 193.2h0M508.9 188.1h0M509.0 196.8h0M509.2 196.5h0M509.3 189.4h0M509.5 193.3h0M509.6 189.9h0M509.7 200.8h0M509.9 187.2h0M510.0 199.3h0M510.2 191.9h0M510.3 191.2h0M510.5 185.8h0M510.6 189.7h0M510.8 189.2h0M510.9 190.8h0M511.1 187.8h0M511.2 194.0h0M511.3 191.1h0M511.5 191.4h0M511.6 193.9h0M511.8 190.0h0M511.9 185.9h0M512.1 193.0h0M512.2 195.4h0M512.4 190.7h0M512.5 190.6h0M512.6 186.3h0M512.8 189.8h0M512.9 191.5h0M513.1 192.2h0M513.2 190.4h0M513.4 187.2h0M513.5 194.2h0M513.7 191.4h0M513.8 185.6h0M513.9 191.6h0M514.1 190.0h0M514.2 185.9h0M514.4 178.1h0M514.5 181.0h0M514.7 181.0h0M514.8 187.1h0M515.0 187.2h0M515.1 187.9h0M515.2 184.0h0M515.4 189.1h0M515.5 188.0h0M515.7 178.3h0M515.8 179.5h0M516.0 186.6h0M516.1 184.2h0M516.3 187.4h0M516.4 182.3h0M516.5 181.9h0M516.7 181.9h0M516.8 183.8h0M517.0 188.0h0M517.1 184.5h0M517.3 188.2h0M517.4 187.4h0M517.6 186.0h0M517.7 184.8h0M517.8 189.4h0M518.0 186.9h0M518.1 189.6h0M518.3 185.8h0M518.4 185.9h0M518.6 181.8h0M518.7 185.5h0M518.9 185.3h0M519.0 179.0h0M519.1 185.4h0M519.3 184.4h0M519.4 181.1h0M519.6 179.7h0M519.7 183.4h0M519.9 178.0h0M520.0 178.6h0M520.2 179.9h0M520.3 178.8h0M520.4 185.6h0M520.6 177.1h0M520.7 182.4h0M520.9 175.5h0M521.0 184.6h0M521.2 175.4h0M521.3 177.8h0M521.5 177.3h0M521.6 174.5h0M521.7 172.0h0M521.9 179.3h0M522.0 173.8h0M522.2 176.0h0M522.3 181.3h0M522.5 180.8h0M522.6 183.7h0M522.8 179.1h0M522.9 181.2h0M523.0 184.2h0M523.2 177.0h0M523.3 175.2h0M523.5 184.6h0M523.6 179.4h0M523.8 175.6h0M523.9 171.2h0M524.1 170.8h0M524.2 173.7h0M524.3 180.0h0M524.5 184.6h0M524.6 177.7h0M524.8 176.9h0M524.9 179.9h0M525.1 176.0h0M525.2 177.8h0M525.4 177.5h0M525.5 186.3h0M525.6 182.0h0M525.8 175.3h0M525.9 176.4h0M526.1 174.3h0M526.2 171.9h0M526.4 179.9h0M526.5 173.6h0M526.7 179.9h0M526.8 178.7h0M526.9 173.1h0M527.1 177.3h0M527.2 174.5h0M527.4 181.1h0M527.5 180.9h0M527.7 182.8h0M527.8 177.4h0M528.0 180.2h0M528.1 177.1h0M528.2 173.9h0M528.4 168.6h0M528.5 176.6h0M528.7 178.5h0M528.8 188.3h0M529.0 178.9h0M529.1 184.9h0M529.3 180.2h0M529.4 180.7h0M529.5 182.5h0M529.7 184.3h0M529.8 186.6h0M530.0 183.9h0M530.1 185.9h0M530.3 188.9h0M530.4 187.3h0M530.6 190.0h0M530.7 193.0h0M530.9 187.4h0M531.0 189.4h0M531.1 195.0h0M531.3 194.0h0M531.4 186.3h0M531.6 186.7h0M531.7 185.2h0M531.9 183.1h0M532.0 182.3h0M532.2 190.7h0M532.3 181.7h0M532.4 190.3h0M532.6 183.6h0M532.7 184.9h0M532.9 186.7h0M533.0 185.2h0M533.2 190.7h0M533.3 195.3h0M533.5 188.8h0M533.6 187.9h0M533.7 184.5h0M533.9 191.7h0M534.0 185.3h0M534.2 181.5h0M534.3 187.7h0M534.5 187.9h0M534.6 188.2h0M534.8 187.5h0M534.9 184.5h0M535.0 182.1h0M535.2 185.9h0M535.3 178.8h0M535.5 177.8h0M535.6 182.6h0M535.8 174.3h0M535.9 176.8h0M536.1 186.1h0M536.2 173.2h0M536.3 185.8h0M536.5 168.7h0M536.6 179.1h0M536.8 182.9h0M536.9 186.0h0M537.1 186.2h0M537.2 181.8h0M537.4 178.6h0M537.5 188.2h0M537.6 179.0h0M537.8 178.5h0M537.9 188.1h0M538.1 177.8h0M538.2 183.5h0M538.4 186.6h0M538.5 183.5h0M538.7 191.5h0M538.8 187.1h0M538.9 177.9h0M539.1 182.1h0M539.2 184.1h0M539.4 183.0h0M539.5 182.6h0M539.7 179.7h0M539.8 185.0h0M540.0 178.5h0M540.1 185.2h0M540.2 181.8h0M540.4 185.7h0M540.5 177.4h0M540.7 178.0h0M540.8 173.2h0M541.0 178.0h0M541.1 182.7h0M541.3 183.9h0M541.4 181.7h0M541.5 175.5h0M541.7 180.7h0M541.8 180.3h0M542.0 178.6h0M542.1 183.5h0M542.3 181.9h0M542.4 175.8h0M542.6 176.2h0M542.7 181.9h0M542.8 179.2h0M543.0 178.6h0M543.1 179.6h0M543.3 176.3h0M543.4 175.8h0M543.6 177.5h0M543.7 174.7h0M543.9 186.3h0M544.0 176.9h0M544.1 184.1h0M544.3 182.5h0M544.4 184.6h0M544.6 177.2h0M544.7 178.0h0M544.9 176.1h0M545.0 184.0h0M545.2 181.6h0M545.3 183.9h0M545.4 185.4h0M545.6 178.3h0M545.7 187.3h0M545.9 183.4h0M546.0 181.2h0M546.2 183.8h0M546.3 182.0h0M546.5 187.0h0M546.6 180.2h0M546.7 176.5h0M546.9 181.4h0M547.0 179.7h0M547.2 181.4h0M547.3 180.6h0M547.5 180.3h0M547.6 175.9h0M547.8 183.8h0M547.9 178.5h0M548.0 174.8h0M548.2 178.8h0M548.3 181.0h0M548.5 175.1h0M548.6 175.0h0M548.8 177.5h0M548.9 180.2h0M549.1 185.8h0M549.2 176.7h0M549.3 181.8h0M549.5 187.0h0M549.6 172.2h0M549.8 176.2h0M549.9 176.5h0M550.1 177.4h0M550.2 177.3h0M550.4 177.2h0M550.5 182.2h0M550.7 178.2h0M550.8 178.6h0M550.9 186.9h0M551.1 180.3h0M551.2 177.3h0M551.4 181.4h0M551.5 183.3h0M551.7 183.2h0M551.8 175.8h0M552.0 188.2h0M552.1 179.3h0M552.2 182.1h0M552.4 181.4h0M552.5 184.0h0M552.7 184.2h0M552.8 187.1h0M553.0 183.8h0M553.1 183.6h0M553.3 186.4h0M553.4 190.0h0M553.5 181.0h0M553.7 186.3h0M553.8 191.1h0M554.0 185.9h0M554.1 183.6h0M554.3 188.3h0M554.4 187.4h0M554.6 189.9h0M554.7 189.9h0M554.8 181.1h0M555.0 193.7h0M555.1 197.5h0M555.3 187.3h0M555.4 185.7h0M555.6 191.0h0M555.7 191.6h0M555.9 176.9h0M556.0 182.0h0M556.1 184.2h0M556.3 183.0h0M556.4 183.4h0M556.6 187.7h0M556.7 180.0h0M556.9 182.9h0M557.0 186.9h0M557.2 179.0h0M557.3 180.3h0M557.4 188.4h0M557.6 184.2h0M557.7 189.2h0M557.9 187.4h0M558.0 178.3h0M558.2 182.6h0M558.3 183.6h0M558.5 185.9h0M558.6 182.2h0M558.7 185.6h0M558.9 179.9h0M559.0 178.5h0M559.2 183.3h0M559.3 190.8h0M559.5 176.2h0M559.6 181.0h0M559.8 181.1h0M559.9 179.4h0M560.0 180.2h0M560.2 191.1h0M560.3 185.2h0M560.5 195.4h0M560.6 189.3h0M560.8 188.5h0M560.9 189.0h0M561.1 190.5h0M561.2 189.9h0M561.3 189.2h0M561.5 182.4h0M561.6 186.4h0M561.8 184.8h0M561.9 184.6h0M562.1 186.1h0M562.2 182.9h0M562.4 186.4h0M562.5 180.4h0M562.6 183.4h0M562.8 179.0h0M562.9 186.4h0M563.1 190.5h0M563.2 188.8h0M563.4 184.9h0M563.5 190.6h0M563.7 182.7h0M563.8 195.4h0M563.9 186.5h0M564.1 184.8h0M564.2 183.3h0M564.4 178.9h0M564.5 183.7h0M564.7 184.1h0M564.8 184.9h0M565.0 180.5h0M565.1 186.1h0M565.2 182.9h0M565.4 184.4h0M565.5 177.2h0M565.7 178.2h0M565.8 176.5h0M566.0 179.3h0M566.1 176.6h0M566.3 176.3h0M566.4 178.6h0M566.5 176.7h0M566.7 179.7h0M566.8 178.0h0M567.0 184.0h0M567.1 177.8h0M567.3 174.7h0M567.4 175.4h0M567.6 185.7h0M567.7 177.7h0M567.8 177.0h0M568.0 176.6h0M568.1 181.6h0M568.3 184.5h0M568.4 176.9h0M568.6 174.9h0M568.7 185.4h0M568.9 179.8h0M569.0 181.9h0M569.1 180.1h0M569.3 183.0h0M569.4 184.0h0M569.6 183.8h0M569.7 184.6h0M569.9 177.8h0M570.0 174.9h0M570.2 173.0h0M570.3 186.7h0M570.4 181.7h0M570.6 188.3h0M570.7 179.0h0M570.9 182.1h0M571.0 183.0h0M571.2 179.9h0M571.3 174.0h0M571.5 177.9h0M571.6 179.6h0M571.8 186.0h0M571.9 183.1h0M572.0 181.3h0M572.2 182.5h0M572.3 181.0h0M572.5 182.5h0M572.6 183.7h0M572.8 181.0h0M572.9 185.1h0M573.1 182.7h0M573.2 187.3h0M573.3 179.6h0M573.5 180.6h0M573.6 176.0h0M573.8 184.4h0M573.9 185.0h0M574.1 184.4h0M574.2 174.1h0M574.4 182.6h0M574.5 181.1h0M574.6 181.6h0M574.8 179.8h0M574.9 178.2h0M575.1 176.1h0M575.2 174.5h0M575.4 181.4h0M575.5 180.6h0M575.7 174.3h0M575.8 182.2h0M575.9 173.4h0M576.1 174.5h0M576.2 174.3h0M576.4 177.6h0M576.5 179.0h0M576.7 178.1h0M576.8 186.0h0M577.0 181.4h0M577.1 183.4h0M577.2 176.6h0M577.4 176.8h0M577.5 179.6h0M577.7 179.2h0M577.8 184.0h0M578.0 181.8h0M578.1 187.9h0M578.3 188.7h0M578.4 186.9h0M578.5 181.3h0M578.7 185.0h0M578.8 180.7h0M579.0 186.6h0M579.1 181.3h0M579.3 181.3h0M579.4 191.3h0M579.6 179.4h0M579.7 178.4h0M579.8 178.6h0M580.0 177.3h0M580.1 185.0h0M580.3 178.2h0M580.4 182.0h0M580.6 189.6h0M580.7 190.5h0M580.9 179.0h0M581.0 180.0h0M581.1 177.3h0M581.3 180.8h0M581.4 183.1h0M581.6 181.0h0M581.7 180.7h0M581.9 178.1h0M582.0 177.2h0M582.2 182.8h0M582.3 183.0h0M582.4 178.8h0M582.6 177.3h0M582.7 183.6h0M582.9 178.3h0M583.0 177.4h0M583.2 172.6h0M583.3 172.1h0M583.5 174.2h0M583.6 174.9h0M583.7 174.6h0M583.9 175.2h0M584.0 179.5h0M584.2 179.2h0M584.3 184.0h0M584.5 172.9h0M584.6 181.1h0M584.8 180.1h0M584.9 178.9h0M585.0 177.5h0M585.2 177.0h0M585.3 182.2h0M585.5 178.4h0M585.6 175.6h0M585.8 177.9h0M585.9 172.9h0M586.1 172.9h0M586.2 175.4h0M586.3 175.9h0M586.5 181.0h0M586.6 180.5h0M586.8 179.0h0M586.9 186.4h0M587.1 176.2h0M587.2 174.1h0M587.4 181.0h0M587.5 181.3h0M587.6 182.6h0M587.8 177.6h0M587.9 179.6h0M588.1 179.6h0M588.2 186.4h0M588.4 180.1h0M588.5 178.0h0M588.7 189.2h0M588.8 179.4h0M588.9 178.7h0M589.1 178.5h0M589.2 180.5h0M589.4 179.5h0M589.5 184.5h0M589.7 176.2h0M589.8 187.2h0M590.0 177.9h0M590.1 173.8h0M590.2 181.0h0M590.4 184.0h0M590.5 180.1h0M590.7 172.9h0M590.8 176.5h0M591.0 183.6h0M591.1 179.2h0M591.3 183.4h0M591.4 178.8h0M591.6 177.6h0M591.7 174.5h0M591.8 182.9h0M592.0 175.4h0M592.1 178.6h0M592.3 176.5h0M592.4 175.0h0M592.6 176.7h0M592.7 176.7h0M592.9 172.6h0M593.0 181.5h0M593.1 178.0h0M593.3 175.0h0M593.4 171.8h0M593.6 177.0h0M593.7 178.2h0M593.9 183.4h0M594.0 176.9h0M594.2 180.1h0M594.3 175.1h0M594.4 172.6h0M594.6 173.3h0M594.7 170.7h0M594.9 176.0h0M595.0 173.6h0M595.2 172.9h0M595.3 173.1h0M595.5 179.4h0M595.6 174.1h0M595.7 177.5h0M595.9 178.5h0M596.0 174.8h0M596.2 173.8h0M596.3 174.5h0M596.5 181.0h0M596.6 165.1h0M596.8 168.7h0M596.9 172.7h0M597.0 169.3h0M597.2 174.7h0M597.3 173.2h0M597.5 177.2h0M597.6 175.5h0M597.8 171.4h0M597.9 173.7h0M598.1 175.0h0M598.2 179.3h0M598.3 174.3h0M598.5 174.8h0M598.6 177.7h0M598.8 171.5h0M598.9 173.1h0M599.1 171.6h0M599.2 168.3h0M599.4 173.3h0M599.5 176.4h0M599.6 173.0h0M599.8 176.6h0M599.9 177.2h0M600.1 166.9h0M600.2 181.5h0M600.4 171.2h0M600.5 178.4h0M600.7 181.2h0M600.8 177.5h0M600.9 175.9h0M601.1 181.0h0M601.2 170.9h0M601.4 176.4h0M601.5 179.3h0M601.7 168.9h0M601.8 176.7h0M602.0 174.9h0M602.1 182.8h0M602.2 172.9h0M602.4 175.6h0M602.5 181.0h0M602.7 180.2h0M602.8 171.9h0M603.0 182.3h0M603.1 183.6h0M603.3 181.0h0M603.4 182.2h0M603.5 177.7h0M603.7 180.3h0M603.8 176.2h0M604.0 176.1h0M604.1 178.2h0M604.3 176.6h0M604.4 178.7h0M604.6 180.7h0M604.7 172.1h0M604.8 178.9h0M605.0 178.6h0M605.1 177.8h0M605.3 174.1h0M605.4 172.9h0M605.6 180.7h0M605.7 173.7h0M605.9 173.0h0M606.0 170.0h0M606.1 171.7h0M606.3 172.1h0M606.4 172.7h0M606.6 175.6h0M606.7 172.8h0M606.9 171.9h0M607.0 173.7h0M607.2 176.8h0M607.3 177.2h0M607.4 166.0h0M607.6 170.5h0M607.7 167.6h0M607.9 173.5h0M608.0 174.9h0M608.2 175.5h0M608.3 165.5h0M608.5 169.7h0M608.6 164.9h0M608.7 167.7h0M608.9 166.1h0M609.0 170.0h0M609.2 166.2h0M609.3 173.9h0M609.5 166.2h0M609.6 176.0h0M609.8 174.6h0M609.9 169.7h0M610.0 173.3h0M610.2 171.8h0M610.3 171.9h0M610.5 173.7h0M610.6 167.8h0M610.8 170.1h0M610.9 165.3h0M611.1 168.9h0M611.2 177.7h0M611.4 170.1h0M611.5 170.4h0M611.6 167.2h0M611.8 169.9h0M611.9 169.6h0M612.1 164.7h0M612.2 163.7h0M612.4 164.5h0M612.5 163.1h0M612.7 174.6h0M612.8 158.4h0M612.9 168.8h0M613.1 166.6h0M613.2 160.6h0M613.4 167.4h0M613.5 165.7h0M613.7 173.7h0M613.8 165.8h0M614.0 162.5h0M614.1 172.0h0M614.2 175.7h0M614.4 164.6h0M614.5 164.4h0M614.7 172.5h0M614.8 170.1h0M615.0 173.8h0M615.1 166.4h0M615.3 170.8h0M615.4 166.4h0M615.5 168.8h0M615.7 169.0h0M615.8 165.0h0M616.0 168.0h0M616.1 173.6h0M616.3 166.7h0M616.4 166.8h0M616.6 166.0h0M616.7 170.7h0M616.8 165.1h0M617.0 164.7h0M617.1 167.3h0M617.3 168.4h0M617.4 168.4h0M617.6 166.9h0M617.7 172.9h0M617.9 173.6h0M618.0 171.8h0M618.1 176.9h0M618.3 171.5h0M618.4 177.6h0M618.6 171.3h0M618.7 173.5h0M618.9 174.4h0M619.0 175.8h0M619.2 174.2h0M619.3 172.5h0M619.4 170.3h0M619.6 171.1h0M619.7 173.3h0M619.9 169.9h0M620.0 165.7h0M620.2 163.7h0M620.3 166.6h0M620.5 171.0h0M620.6 165.4h0M620.7 159.1h0M620.9 169.6h0M621.0 161.6h0M621.2 164.6h0M621.3 169.1h0M621.5 168.5h0M621.6 162.3h0M621.8 160.7h0M621.9 161.0h0M622.0 161.4h0M622.2 168.6h0M622.3 168.4h0M622.5 166.7h0M622.6 171.6h0M622.8 165.4h0M622.9 168.1h0M623.1 166.1h0M623.2 172.6h0M623.3 167.7h0M623.5 168.8h0M623.6 163.9h0M623.8 166.6h0M623.9 164.2h0M624.1 169.2h0M624.2 173.3h0M624.4 168.6h0M624.5 165.7h0M624.6 160.3h0M624.8 167.1h0M624.9 169.3h0M625.1 160.9h0M625.2 166.8h0M625.4 172.0h0M625.5 166.4h0M625.7 166.4h0M625.8 168.6h0M625.9 173.0h0M626.1 160.2h0M626.2 173.8h0M626.4 176.0h0M626.5 168.8h0M626.7 174.8h0M626.8 169.2h0M627.0 168.1h0M627.1 170.4h0M627.2 165.8h0M627.4 168.5h0M627.5 168.9h0M627.7 165.1h0M627.8 166.7h0M628.0 155.3h0M628.1 164.8h0M628.3 161.5h0M628.4 165.8h0M628.5 168.7h0M628.7 168.9h0M628.8 163.6h0M629.0 159.2h0M629.1 162.7h0M629.3 169.5h0M629.4 168.0h0M629.6 165.9h0M629.7 167.5h0M629.8 165.5h0M630.0 160.6h0M630.1 162.6h0M630.3 164.4h0M630.4 167.8h0M630.6 166.3h0M630.7 162.6h0M630.9 161.9h0M631.0 167.4h0M631.2 168.1h0M631.3 170.4h0M631.4 170.6h0M631.6 171.4h0M631.7 172.1h0M631.9 164.7h0M632.0 162.2h0M632.2 169.3h0M632.3 171.0h0M632.5 171.7h0M632.6 174.6h0M632.7 164.7h0M632.9 172.1h0M633.0 162.1h0M633.2 165.8h0M633.3 176.3h0M633.5 169.4h0M633.6 170.8h0M633.8 170.6h0M633.9 163.0h0M634.0 166.2h0M634.2 164.6h0M634.3 162.5h0M634.5 162.7h0M634.6 164.3h0M634.8 168.0h0M634.9 164.3h0M635.1 164.5h0M635.2 159.2h0M635.3 168.7h0M635.5 155.6h0M635.6 162.5h0M635.8 171.9h0M635.9 162.3h0M636.1 163.9h0M636.2 161.9h0M636.4 164.5h0M636.5 165.1h0M636.6 168.2h0M636.8 161.3h0M636.9 159.9h0M637.1 171.7h0M637.2 160.4h0M637.4 160.2h0M637.5 163.2h0M637.7 165.9h0M637.8 161.0h0M637.9 163.5h0M638.1 162.2h0M638.2 160.7h0M638.4 163.9h0M638.5 167.6h0M638.7 160.3h0M638.8 162.1h0M639.0 168.2h0M639.1 169.5h0M639.2 168.5h0M639.4 165.3h0M639.5 167.9h0M639.7 165.7h0M639.8 162.9h0M640.0 166.0h0M640.1 166.0h0M640.3 173.4h0M640.4 163.7h0M640.5 169.3h0M640.7 166.8h0M640.8 169.8h0M641.0 169.5h0M641.1 168.7h0M641.3 173.2h0M641.4 172.1h0M641.6 177.4h0M641.7 177.3h0M641.8 176.7h0M642.0 168.3h0M642.1 166.4h0M642.3 178.3h0M642.4 176.0h0M642.6 173.6h0M642.7 171.2h0M642.9 170.1h0M643.0 172.5h0M643.1 173.5h0M643.3 166.2h0M643.4 169.3h0M643.6 170.2h0M643.7 171.0h0M643.9 173.6h0M644.0 169.7h0M644.2 174.3h0M644.3 171.6h0M644.4 168.5h0M644.6 159.4h0M644.7 171.7h0M644.9 169.4h0M645.0 170.2h0M645.2 165.3h0M645.3 162.7h0M645.5 169.7h0M645.6 173.3h0M645.7 176.9h0M645.9 167.4h0M646.0 165.1h0M646.2 177.8h0M646.3 165.9h0M646.5 174.1h0M646.6 170.6h0M646.8 169.3h0M646.9 172.5h0M647.0 178.8h0M647.2 164.1h0M647.3 173.6h0M647.5 172.5h0M647.6 173.9h0M647.8 169.4h0M647.9 166.9h0M648.1 171.9h0M648.2 176.4h0M648.3 177.6h0M648.5 180.3h0M648.6 172.9h0M648.8 173.2h0M648.9 174.2h0M649.1 171.8h0M649.2 172.3h0M649.4 169.0h0M649.5 161.1h0M649.6 171.2h0M649.8 173.6h0M649.9 174.7h0M650.1 173.9h0M650.2 167.9h0M650.4 176.6h0M650.5 166.5h0M650.7 167.7h0M650.8 163.8h0M650.9 174.9h0M651.1 175.4h0M651.2 165.7h0M651.4 169.1h0M651.5 169.9h0M651.7 165.4h0M651.8 170.3h0M652.0 169.4h0M652.1 171.8h0M652.3 171.9h0M652.4 175.6h0M652.5 171.1h0M652.7 167.3h0M652.8 176.8h0M653.0 170.8h0M653.1 177.7h0M653.3 178.2h0M653.4 179.7h0M653.6 180.0h0M653.7 179.3h0M653.8 176.9h0M654.0 167.9h0M654.1 173.8h0M654.3 177.8h0M654.4 178.8h0M654.6 179.3h0M654.7 180.7h0M654.9 176.6h0M655.0 170.7h0M655.1 180.8h0M655.3 175.3h0M655.4 174.7h0M655.6 172.7h0M655.7 175.1h0M655.9 168.5h0M656.0 177.0h0M656.2 169.8h0M656.3 179.9h0M656.4 169.2h0M656.6 176.0h0M656.7 169.3h0M656.9 168.7h0M657.0 177.1h0M657.2 170.1h0M657.3 172.5h0M657.5 168.1h0M657.6 167.3h0M657.7 173.9h0M657.9 177.0h0M658.0 172.0h0M658.2 176.9h0M658.3 172.3h0M658.5 169.0h0M658.6 167.9h0M658.8 168.5h0M658.9 171.6h0M659.0 166.1h0M659.2 171.4h0M659.3 175.2h0M659.5 167.7h0M659.6 160.9h0M659.8 173.3h0M659.9 163.8h0M660.1 170.3h0M660.2 169.9h0M660.3 164.4h0M660.5 166.2h0M660.6 158.5h0M660.8 167.1h0M660.9 168.9h0M661.1 168.1h0M661.2 174.5h0M661.4 166.6h0M661.5 173.3h0M661.6 170.7h0M661.8 175.8h0M661.9 165.0h0M662.1 172.5h0M662.2 170.1h0M662.4 170.2h0M662.5 164.8h0M662.7 171.3h0M662.8 168.1h0M662.9 174.3h0M663.1 171.5h0M663.2 170.5h0M663.4 170.1h0M663.5 160.2h0M663.7 170.7h0M663.8 168.1h0M664.0 169.9h0M664.1 166.3h0M664.2 172.0h0M664.4 170.6h0M664.5 170.6h0M664.7 171.4h0M664.8 166.7h0M665.0 165.6h0M665.1 173.4h0M665.3 163.3h0M665.4 164.7h0M665.5 172.7h0M665.7 162.2h0M665.8 170.1h0M666.0 168.7h0M666.1 164.8h0M666.3 166.2h0M666.4 159.5h0M666.6 161.0h0M666.7 158.8h0M666.8 168.5h0M667.0 161.7h0M667.1 166.3h0M667.3 161.9h0M667.4 159.6h0M667.6 169.7h0M667.7 167.1h0M667.9 166.5h0M668.0 168.3h0M668.1 166.8h0M668.3 166.0h0M668.4 157.4h0M668.6 170.4h0M668.7 163.7h0M668.9 160.3h0M669.0 169.3h0M669.2 170.2h0M675.5 167.9h0M675.7 161.5h0M675.8 169.8h0M676.0 165.6h0M676.1 162.0h0M676.2 158.9h0M676.4 168.7h0M676.5 160.6h0M676.7 169.5h0M676.8 165.8h0M677.0 169.3h0M677.1 163.4h0M677.3 165.8h0M677.4 165.4h0M677.5 165.9h0M677.7 169.8h0M677.8 175.4h0M678.0 166.3h0M678.1 173.7h0M678.3 168.9h0M678.4 165.2h0M678.6 161.7h0M678.7 165.0h0M678.8 169.8h0M679.0 172.9h0M679.1 168.5h0M679.3 174.2h0M679.4 169.8h0M679.6 165.6h0M679.7 168.0h0M679.9 166.7h0M680.0 167.6h0M680.1 168.8h0M680.3 165.4h0M680.4 158.4h0M680.6 162.7h0M680.7 162.4h0M680.9 160.8h0M681.0 166.1h0M681.2 165.9h0M681.3 170.2h0" fill="none" stroke="#000" stroke-width="4.4" stroke-linecap="round"/>
<!-- earthquake lines -->
<g stroke="#ff0000" stroke-width="1.8" stroke-dasharray="7.3 7.3" stroke-dashoffset="8.45"><line x1="169.8" y1="63.35" x2="169.8" y2="500.35"/><line x1="314.5" y1="63.35" x2="314.5" y2="500.35"/><line x1="341.1" y1="63.35" x2="341.1" y2="500.35"/><line x1="524.4" y1="63.35" x2="524.4" y2="500.35"/></g>
<!-- log fit -->
<path d="M171.3 462.0 L171.3 460.8 L171.4 459.5 L171.4 458.3 L171.5 457.1 L171.5 455.8 L171.6 454.6 L171.7 453.4 L171.7 452.1 L171.8 450.9 L171.9 449.7 L172.0 448.5 L172.1 447.2 L172.2 446.0 L172.2 444.8 L172.3 443.5 L172.4 442.3 L172.5 441.1 L172.6 439.8 L172.7 438.6 L172.8 437.4 L172.9 436.2 L172.9 434.9 L173.0 433.7 L173.1 432.5 L173.2 431.2 L173.3 430.0 L173.4 428.8 L173.4 427.5 L173.5 426.3 L173.6 425.1 L173.7 423.8 L173.8 422.6 L174.0 421.4 L174.1 420.2 L174.2 418.9 L174.3 417.7 L174.5 416.5 L174.7 415.3 L174.8 414.1 L175.0 412.8 L175.2 411.6 L175.5 410.4 L175.7 409.2 L175.9 408.0 L176.2 406.8 L176.5 405.5 L176.7 404.3 L177.0 403.1 L177.3 401.9 L177.6 400.7 L177.9 399.6 L178.2 398.4 L178.5 397.2 L178.9 396.0 L179.2 394.8 L179.6 393.7 L180.0 392.5 L180.4 391.3 L180.8 390.1 L181.2 389.0 L181.7 387.8 L182.1 386.7 L182.6 385.5 L183.1 384.4 L183.5 383.2 L184.0 382.1 L184.5 381.0 L185.0 379.8 L185.5 378.7 L186.0 377.6 L186.5 376.5 L187.0 375.3 L187.6 374.2 L188.2 373.1 L188.7 372.1 L189.3 371.0 L190.0 369.9 L190.6 368.9 L191.3 367.8 L191.9 366.8 L192.6 365.7 L193.3 364.7 L194.1 363.7 L194.8 362.8 L195.6 361.8 L196.4 360.9 L197.2 360.0 L198.0 359.1 L198.9 358.2 L199.7 357.3 L200.6 356.4 L201.5 355.6 L202.4 354.7 L203.3 353.9 L204.2 353.0 L205.2 352.2 L206.1 351.4 L207.0 350.6 L208.0 349.8 L208.9 349.0 L209.9 348.2 L210.8 347.5 L211.8 346.7 L212.8 345.9 L213.7 345.1 L214.7 344.4 L215.7 343.6 L216.7 342.9 L217.7 342.1 L218.7 341.4 L219.7 340.7 L220.8 340.0 L221.8 339.3 L222.8 338.7 L223.9 338.0 L224.9 337.4 L226.0 336.8 L227.1 336.3 L228.2 335.7 L229.3 335.2 L230.4 334.7 L231.5 334.2 L232.6 333.7 L233.8 333.2 L234.9 332.8 L236.1 332.3 L237.2 331.9 L238.4 331.4 L239.6 331.0 L240.7 330.6 L241.9 330.1 L243.0 329.7 L244.2 329.3 L245.4 328.8 L246.5 328.4 L247.7 327.9 L248.8 327.5 L250.0 327.0 L251.1 326.6 L252.3 326.2 L253.4 325.7 L254.6 325.3 L255.7 324.9 L256.9 324.4 L258.1 324.0 L259.2 323.6 L260.4 323.2 L261.5 322.8 L262.7 322.3 L263.8 321.9 L265.0 321.5 L266.2 321.0 L267.3 320.6 L268.5 320.2 L269.6 319.7 L270.8 319.3 L271.9 318.8 L273.1 318.4 L274.3 318.0 L275.4 317.6 L276.6 317.2 L277.7 316.8 L278.9 316.4 L280.1 316.0 L281.3 315.7 L282.4 315.3 L283.6 315.0 L284.8 314.7 L286.0 314.4 L287.2 314.1 L288.4 313.9 L289.6 313.6 L290.8 313.4 L292.0 313.1 L293.2 312.9 L294.5 312.6 L295.7 312.4 L296.9 312.1 L298.1 311.9 L299.3 311.6 L300.5 311.4 L301.7 311.1 L302.9 310.9 L304.1 310.6 L305.3 310.4 L306.5 310.1 L307.8 309.8 L309.0 309.6 L310.2 309.3 L311.4 309.1 L312.6 308.8 L313.8 308.5 L315.0 308.3 L316.2 308.0 L317.4 307.8 L318.6 307.5 L319.8 307.3 L321.0 307.0 L322.2 306.7 L323.4 306.5 L324.6 306.2 L325.8 305.9 L327.0 305.6 L328.2 305.4 L329.4 305.1 L330.6 304.8 L331.8 304.5 L333.0 304.2 L334.2 304.0 L335.5 303.7 L336.7 303.5 L337.9 303.2 L339.1 303.0 L340.3 302.8 L341.5 302.6 L342.7 302.4 L343.9 302.2 L345.2 302.0 L346.4 301.8 L347.6 301.6 L348.8 301.5 L350.0 301.3 L351.3 301.2 L352.5 301.0 L353.7 300.8 L354.9 300.7 L356.2 300.5 L357.4 300.4 L358.6 300.2 L359.8 300.0 L361.0 299.8 L362.3 299.7 L363.5 299.5 L364.7 299.3 L365.9 299.1 L367.1 298.9 L368.4 298.7 L369.6 298.5 L370.8 298.3 L372.0 298.1 L373.2 297.9 L374.4 297.7 L375.7 297.5 L376.9 297.3 L378.1 297.1 L379.3 296.9 L380.5 296.7 L381.7 296.5 L383.0 296.3 L384.2 296.0 L385.4 295.8 L386.6 295.6 L387.8 295.3 L389.0 295.1 L390.2 294.9 L391.4 294.6 L392.6 294.4 L393.9 294.2 L395.1 293.9 L396.3 293.7 L397.5 293.5 L398.7 293.3 L399.9 293.2 L401.2 293.0 L402.4 292.9 L403.6 292.7 L404.8 292.6 L406.1 292.5 L407.3 292.4 L408.5 292.2 L409.7 292.1 L411.0 292.0 L412.2 291.9 L413.4 291.8 L414.7 291.7 L415.9 291.6 L417.1 291.5 L418.3 291.4 L419.6 291.2 L420.8 291.1 L422.0 291.0 L423.3 290.9 L424.5 290.7 L425.7 290.6 L426.9 290.5 L428.2 290.3 L429.4 290.2 L430.6 290.0 L431.8 289.9 L433.1 289.8 L434.3 289.6 L435.5 289.5 L436.7 289.3 L438.0 289.2 L439.2 289.1 L440.4 288.9 L441.6 288.8 L442.9 288.6 L444.1 288.5" fill="none" stroke="#00ff00" stroke-width="5.6" stroke-dasharray="0.0 0.0 5.4 16.7 21.9 16.6 5.5 17.4 21.4 16.9 5.5 17.6 21.1 16.1 5.5 17.0 21.6 16.3 5.5 16.5 22.2 15.9 5.5 17.0 21.6 16.8 5.5 1000.0"/>
<!-- panel border & ticks -->
<rect x="93.55" y="63.35" width="588.5" height="437" fill="none" stroke="#2b2b2b" stroke-width="1.35"/>
<g stroke="#222" stroke-width="1.5">
<line x1="87.4" y1="82.5" x2="93.5" y2="82.5"/><line x1="87.4" y1="207.1" x2="93.5" y2="207.1"/>
<line x1="87.4" y1="331.7" x2="93.5" y2="331.7"/><line x1="87.4" y1="456.3" x2="93.5" y2="456.3"/>
<line x1="203.6" y1="500" x2="203.6" y2="506.5"/><line x1="354.4" y1="500" x2="354.4" y2="506.5"/>
<line x1="505.1" y1="500" x2="505.1" y2="506.5"/><line x1="655.9" y1="500" x2="655.9" y2="506.5"/>
</g>
<g class="ax" text-anchor="end">
<text x="82.6" y="91.8">0.15</text><text x="82.6" y="216.5">0.10</text>
<text x="82.6" y="341.1">0.05</text><text x="82.6" y="465.4">0.00</text>
</g>
<g class="ax" text-anchor="middle">
<text x="203.2" y="529.4">2007</text><text x="353.6" y="529.4">2010</text>
<text x="504.5" y="529.4">2013</text><text x="655.2" y="529.4">2016</text>
</g>
<text class="ttl" text-anchor="middle" x="387.6" y="560">Time [year]</text>
<text class="ttl" text-anchor="middle" transform="translate(24.4 282.3) rotate(-90)">Relative displacement [m]</text>
<!-- earthquake labels -->
<g class="red">
<text x="142" y="20">2006</text><text x="142" y="49.2">M8.0</text>
<text x="263.6" y="20">2009</text><text x="263.6" y="49.2">M7.6</text>
<text x="337.6" y="20">2009</text><text x="337.6" y="49.2">M8.1</text>
<text x="497.4" y="20">2013</text><text x="497.4" y="49.2">M7.4</text>
</g>
<!-- period arrows -->
<g fill="#f4b183" stroke="#ed7d31" stroke-width="1.7" stroke-linejoin="miter"><polygon points="115.9,79.8 126.1,69.6 126.1,74.5 157.5,74.5 157.5,69.6 167.7,79.8 157.5,90.0 157.5,85.0 126.1,85.0 126.1,90.0"/><polygon points="171.3,79.8 181.5,69.6 181.5,74.5 302.9,74.5 302.9,69.6 313.1,79.8 302.9,90.0 302.9,85.0 181.5,85.0 181.5,90.0"/><polygon points="342.8,79.8 353.0,69.6 353.0,74.5 512.7,74.5 512.7,69.6 522.9,79.8 512.7,90.0 512.7,85.0 353.0,85.0 353.0,90.0"/><polygon points="526.0,79.8 536.2,69.6 536.2,74.5 670.1,74.5 670.1,69.6 680.3,79.8 670.1,90.0 670.1,85.0 536.2,85.0 536.2,90.0"/></g>
<g class="per">
<text x="142" y="117">P1</text><text x="243" y="117">P2</text>
<text x="432.2" y="117">P3</text><text x="602.5" y="117">P4</text>
</g>
<g class="grn"><text x="177.9" y="251.3">Post 2006</text><text x="179.5" y="280.7">(log-fitting)</text></g>
<text class="lin" transform="translate(365.4 253.1) rotate(-36.4)">Linear increase</text>
</svg>
</body></html>
